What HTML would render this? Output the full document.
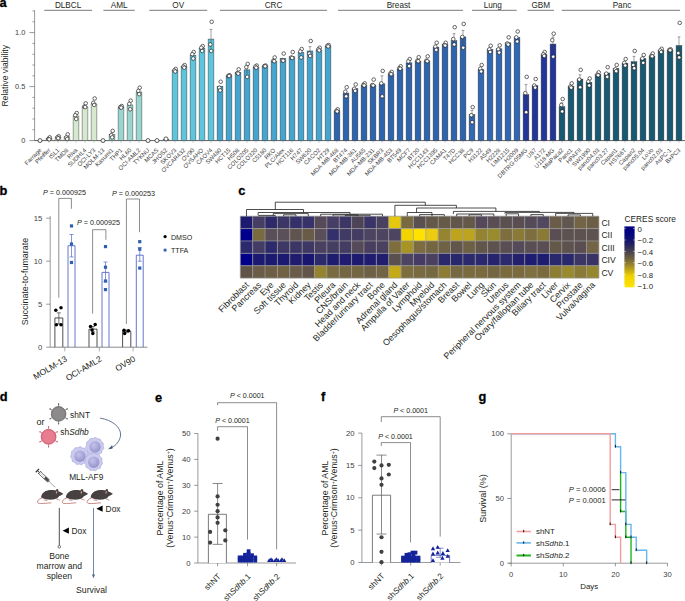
<!DOCTYPE html>
<html><head><meta charset="utf-8"><title>Figure</title>
<style>
html,body{margin:0;padding:0;background:#fff;}
body{width:685px;height:601px;overflow:hidden;}
svg{display:block;}
text{font-family:"Liberation Sans", sans-serif;}
</style></head>
<body>
<svg width="685" height="601" viewBox="0 0 685 601" font-family='"Liberation Sans", sans-serif'>
<rect x="0" y="0" width="685" height="601" fill="#fff"/>
<text x="-0.40" y="7.00" font-size="12.8" text-anchor="start" font-weight="bold" fill="#000" stroke="#000" stroke-width="0.3">a</text>
<line x1="34.60" y1="10.30" x2="34.60" y2="140.90" stroke="#6d6e71" stroke-width="0.7"/>
<line x1="29.40" y1="140.60" x2="34.60" y2="140.60" stroke="#6d6e71" stroke-width="0.7"/>
<line x1="32.40" y1="129.80" x2="34.60" y2="129.80" stroke="#6d6e71" stroke-width="0.7"/>
<line x1="32.40" y1="119.00" x2="34.60" y2="119.00" stroke="#6d6e71" stroke-width="0.7"/>
<line x1="32.40" y1="108.20" x2="34.60" y2="108.20" stroke="#6d6e71" stroke-width="0.7"/>
<line x1="32.40" y1="97.40" x2="34.60" y2="97.40" stroke="#6d6e71" stroke-width="0.7"/>
<line x1="29.40" y1="86.60" x2="34.60" y2="86.60" stroke="#6d6e71" stroke-width="0.7"/>
<line x1="32.40" y1="75.80" x2="34.60" y2="75.80" stroke="#6d6e71" stroke-width="0.7"/>
<line x1="32.40" y1="65.00" x2="34.60" y2="65.00" stroke="#6d6e71" stroke-width="0.7"/>
<line x1="32.40" y1="54.20" x2="34.60" y2="54.20" stroke="#6d6e71" stroke-width="0.7"/>
<line x1="32.40" y1="43.40" x2="34.60" y2="43.40" stroke="#6d6e71" stroke-width="0.7"/>
<line x1="29.40" y1="32.60" x2="34.60" y2="32.60" stroke="#6d6e71" stroke-width="0.7"/>
<line x1="32.40" y1="21.80" x2="34.60" y2="21.80" stroke="#6d6e71" stroke-width="0.7"/>
<line x1="32.40" y1="11.00" x2="34.60" y2="11.00" stroke="#6d6e71" stroke-width="0.7"/>
<text x="25.40" y="143.10" font-size="7.4" text-anchor="end" font-weight="normal" fill="#414042">0</text>
<text x="25.40" y="89.10" font-size="7.4" text-anchor="end" font-weight="normal" fill="#414042">0.5</text>
<text x="25.40" y="35.10" font-size="7.4" text-anchor="end" font-weight="normal" fill="#414042">1.0</text>
<text x="7.60" y="75.80" font-size="8.6" text-anchor="middle" font-weight="normal" fill="#231f20" transform="rotate(-90 7.60 75.80)">Relative viability</text>
<line x1="34.60" y1="140.60" x2="685.00" y2="140.60" stroke="#3a3a3a" stroke-width="0.8"/>
<line x1="44.20" y1="10.30" x2="92.00" y2="10.30" stroke="#58595b" stroke-width="0.8"/>
<text x="68.10" y="7.60" font-size="8.2" text-anchor="middle" font-weight="normal" fill="#231f20">DLBCL</text>
<circle cx="40.00" cy="140.60" r="2.00" fill="#fff" stroke="#1a1a1a" stroke-width="0.7"/>
<line x1="40.00" y1="141.00" x2="40.00" y2="142.80" stroke="#9a9a9a" stroke-width="0.5"/>
<text x="41.90" y="150.60" font-size="6.0" text-anchor="end" font-weight="normal" fill="#414042" transform="rotate(-45 41.90 150.60)">Farrage</text>
<rect x="46.10" y="138.44" width="5.80" height="2.16" fill="#d5e9cf" stroke="#3a3a3a" stroke-width="0.45"/>
<circle cx="49.70" cy="137.36" r="1.80" fill="#fff" stroke="#1a1a1a" stroke-width="0.65"/>
<circle cx="48.30" cy="138.98" r="1.80" fill="#fff" stroke="#1a1a1a" stroke-width="0.65"/>
<circle cx="49.20" cy="139.30" r="1.80" fill="#fff" stroke="#1a1a1a" stroke-width="0.65"/>
<line x1="49.00" y1="141.00" x2="49.00" y2="142.80" stroke="#9a9a9a" stroke-width="0.5"/>
<text x="50.90" y="150.60" font-size="6.0" text-anchor="end" font-weight="normal" fill="#414042" transform="rotate(-45 50.90 150.60)">Pfeiffer</text>
<rect x="55.10" y="137.36" width="5.80" height="3.24" fill="#d5e9cf" stroke="#3a3a3a" stroke-width="0.45"/>
<circle cx="58.70" cy="136.28" r="1.80" fill="#fff" stroke="#1a1a1a" stroke-width="0.65"/>
<circle cx="57.30" cy="137.36" r="1.80" fill="#fff" stroke="#1a1a1a" stroke-width="0.65"/>
<circle cx="58.20" cy="138.22" r="1.80" fill="#fff" stroke="#1a1a1a" stroke-width="0.65"/>
<line x1="58.00" y1="141.00" x2="58.00" y2="142.80" stroke="#9a9a9a" stroke-width="0.5"/>
<text x="59.90" y="150.60" font-size="6.0" text-anchor="end" font-weight="normal" fill="#414042" transform="rotate(-45 59.90 150.60)">ISL1</text>
<rect x="64.10" y="136.82" width="5.80" height="3.78" fill="#d5e9cf" stroke="#3a3a3a" stroke-width="0.45"/>
<circle cx="67.70" cy="134.34" r="1.80" fill="#fff" stroke="#1a1a1a" stroke-width="0.65"/>
<circle cx="66.30" cy="137.36" r="1.80" fill="#fff" stroke="#1a1a1a" stroke-width="0.65"/>
<circle cx="67.20" cy="138.98" r="1.80" fill="#fff" stroke="#1a1a1a" stroke-width="0.65"/>
<line x1="67.00" y1="141.00" x2="67.00" y2="142.80" stroke="#9a9a9a" stroke-width="0.5"/>
<text x="68.90" y="150.60" font-size="6.0" text-anchor="end" font-weight="normal" fill="#414042" transform="rotate(-45 68.90 150.60)">TMD8</text>
<rect x="73.10" y="116.08" width="5.80" height="24.52" fill="#d5e9cf" stroke="#3a3a3a" stroke-width="0.45"/>
<circle cx="76.70" cy="113.06" r="1.80" fill="#fff" stroke="#1a1a1a" stroke-width="0.65"/>
<circle cx="75.30" cy="115.22" r="1.80" fill="#fff" stroke="#1a1a1a" stroke-width="0.65"/>
<circle cx="76.20" cy="119.00" r="1.80" fill="#fff" stroke="#1a1a1a" stroke-width="0.65"/>
<line x1="76.00" y1="141.00" x2="76.00" y2="142.80" stroke="#9a9a9a" stroke-width="0.5"/>
<text x="77.90" y="150.60" font-size="6.0" text-anchor="end" font-weight="normal" fill="#414042" transform="rotate(-45 77.90 150.60)">Riva</text>
<rect x="82.10" y="106.90" width="5.80" height="33.70" fill="#d5e9cf" stroke="#3a3a3a" stroke-width="0.45"/>
<circle cx="85.70" cy="103.34" r="1.80" fill="#fff" stroke="#1a1a1a" stroke-width="0.65"/>
<circle cx="84.30" cy="106.58" r="1.80" fill="#fff" stroke="#1a1a1a" stroke-width="0.65"/>
<circle cx="85.20" cy="107.12" r="1.80" fill="#fff" stroke="#1a1a1a" stroke-width="0.65"/>
<line x1="85.00" y1="141.00" x2="85.00" y2="142.80" stroke="#9a9a9a" stroke-width="0.5"/>
<text x="86.90" y="150.60" font-size="6.0" text-anchor="end" font-weight="normal" fill="#414042" transform="rotate(-45 86.90 150.60)">SUDHL4</text>
<rect x="91.10" y="103.88" width="5.80" height="36.72" fill="#d5e9cf" stroke="#3a3a3a" stroke-width="0.45"/>
<circle cx="94.70" cy="98.48" r="1.80" fill="#fff" stroke="#1a1a1a" stroke-width="0.65"/>
<circle cx="93.30" cy="102.80" r="1.80" fill="#fff" stroke="#1a1a1a" stroke-width="0.65"/>
<circle cx="94.20" cy="104.96" r="1.80" fill="#fff" stroke="#1a1a1a" stroke-width="0.65"/>
<line x1="94.00" y1="141.00" x2="94.00" y2="142.80" stroke="#9a9a9a" stroke-width="0.5"/>
<text x="95.90" y="150.60" font-size="6.0" text-anchor="end" font-weight="normal" fill="#414042" transform="rotate(-45 95.90 150.60)">OCI-LY3</text>
<line x1="103.40" y1="10.30" x2="134.80" y2="10.30" stroke="#58595b" stroke-width="0.8"/>
<text x="119.10" y="7.60" font-size="8.2" text-anchor="middle" font-weight="normal" fill="#231f20">AML</text>
<circle cx="103.00" cy="140.60" r="2.00" fill="#fff" stroke="#1a1a1a" stroke-width="0.7"/>
<line x1="103.00" y1="141.00" x2="103.00" y2="142.80" stroke="#9a9a9a" stroke-width="0.5"/>
<text x="104.90" y="150.60" font-size="6.0" text-anchor="end" font-weight="normal" fill="#414042" transform="rotate(-45 104.90 150.60)">MOLM-13</text>
<rect x="109.10" y="134.66" width="5.80" height="5.94" fill="#9ad5cf" stroke="#3a3a3a" stroke-width="0.45"/>
<line x1="112.00" y1="131.96" x2="112.00" y2="137.36" stroke="#444" stroke-width="0.5"/>
<line x1="110.60" y1="131.96" x2="113.40" y2="131.96" stroke="#444" stroke-width="0.5"/>
<circle cx="112.70" cy="130.88" r="1.80" fill="#fff" stroke="#1a1a1a" stroke-width="0.65"/>
<circle cx="111.30" cy="135.20" r="1.80" fill="#fff" stroke="#1a1a1a" stroke-width="0.65"/>
<circle cx="112.20" cy="137.36" r="1.80" fill="#fff" stroke="#1a1a1a" stroke-width="0.65"/>
<line x1="112.00" y1="141.00" x2="112.00" y2="142.80" stroke="#9a9a9a" stroke-width="0.5"/>
<text x="113.90" y="150.60" font-size="6.0" text-anchor="end" font-weight="normal" fill="#414042" transform="rotate(-45 113.90 150.60)">Kasumi1</text>
<rect x="118.10" y="107.12" width="5.80" height="33.48" fill="#9ad5cf" stroke="#3a3a3a" stroke-width="0.45"/>
<circle cx="121.70" cy="106.04" r="1.80" fill="#fff" stroke="#1a1a1a" stroke-width="0.65"/>
<circle cx="120.30" cy="107.12" r="1.80" fill="#fff" stroke="#1a1a1a" stroke-width="0.65"/>
<circle cx="121.20" cy="107.66" r="1.80" fill="#fff" stroke="#1a1a1a" stroke-width="0.65"/>
<line x1="121.00" y1="141.00" x2="121.00" y2="142.80" stroke="#9a9a9a" stroke-width="0.5"/>
<text x="122.90" y="150.60" font-size="6.0" text-anchor="end" font-weight="normal" fill="#414042" transform="rotate(-45 122.90 150.60)">THP1</text>
<rect x="127.10" y="104.96" width="5.80" height="35.64" fill="#9ad5cf" stroke="#3a3a3a" stroke-width="0.45"/>
<circle cx="130.70" cy="100.64" r="1.80" fill="#fff" stroke="#1a1a1a" stroke-width="0.65"/>
<circle cx="129.30" cy="103.88" r="1.80" fill="#fff" stroke="#1a1a1a" stroke-width="0.65"/>
<circle cx="130.20" cy="109.28" r="1.80" fill="#fff" stroke="#1a1a1a" stroke-width="0.65"/>
<line x1="130.00" y1="141.00" x2="130.00" y2="142.80" stroke="#9a9a9a" stroke-width="0.5"/>
<text x="131.90" y="150.60" font-size="6.0" text-anchor="end" font-weight="normal" fill="#414042" transform="rotate(-45 131.90 150.60)">HL60</text>
<rect x="136.10" y="92.00" width="5.80" height="48.60" fill="#9ad5cf" stroke="#3a3a3a" stroke-width="0.45"/>
<circle cx="139.70" cy="87.68" r="1.80" fill="#fff" stroke="#1a1a1a" stroke-width="0.65"/>
<circle cx="138.30" cy="90.92" r="1.80" fill="#fff" stroke="#1a1a1a" stroke-width="0.65"/>
<circle cx="139.20" cy="94.16" r="1.80" fill="#fff" stroke="#1a1a1a" stroke-width="0.65"/>
<line x1="139.00" y1="141.00" x2="139.00" y2="142.80" stroke="#9a9a9a" stroke-width="0.5"/>
<text x="140.90" y="150.60" font-size="6.0" text-anchor="end" font-weight="normal" fill="#414042" transform="rotate(-45 140.90 150.60)">OCI-AML2</text>
<line x1="149.30" y1="10.30" x2="207.20" y2="10.30" stroke="#58595b" stroke-width="0.8"/>
<text x="178.25" y="7.60" font-size="8.2" text-anchor="middle" font-weight="normal" fill="#231f20">OV</text>
<circle cx="148.00" cy="140.60" r="2.00" fill="#fff" stroke="#1a1a1a" stroke-width="0.7"/>
<line x1="148.00" y1="141.00" x2="148.00" y2="142.80" stroke="#9a9a9a" stroke-width="0.5"/>
<text x="149.90" y="150.60" font-size="6.0" text-anchor="end" font-weight="normal" fill="#414042" transform="rotate(-45 149.90 150.60)">TYKNU</text>
<circle cx="157.00" cy="140.60" r="2.00" fill="#fff" stroke="#1a1a1a" stroke-width="0.7"/>
<line x1="157.00" y1="141.00" x2="157.00" y2="142.80" stroke="#9a9a9a" stroke-width="0.5"/>
<text x="158.90" y="150.60" font-size="6.0" text-anchor="end" font-weight="normal" fill="#414042" transform="rotate(-45 158.90 150.60)">MCAS</text>
<rect x="163.10" y="139.52" width="5.80" height="1.08" fill="#5ec5dd" stroke="#3a3a3a" stroke-width="0.45"/>
<circle cx="166.00" cy="138.92" r="2.00" fill="#fff" stroke="#1a1a1a" stroke-width="0.7"/>
<line x1="166.00" y1="141.00" x2="166.00" y2="142.80" stroke="#9a9a9a" stroke-width="0.5"/>
<text x="167.90" y="150.60" font-size="6.0" text-anchor="end" font-weight="normal" fill="#414042" transform="rotate(-45 167.90 150.60)">JHOS2</text>
<rect x="172.10" y="70.40" width="5.80" height="70.20" fill="#5ec5dd" stroke="#3a3a3a" stroke-width="0.45"/>
<circle cx="175.70" cy="68.89" r="1.80" fill="#fff" stroke="#1a1a1a" stroke-width="0.65"/>
<circle cx="174.30" cy="70.40" r="1.80" fill="#fff" stroke="#1a1a1a" stroke-width="0.65"/>
<circle cx="175.20" cy="71.48" r="1.80" fill="#fff" stroke="#1a1a1a" stroke-width="0.65"/>
<line x1="175.00" y1="141.00" x2="175.00" y2="142.80" stroke="#9a9a9a" stroke-width="0.5"/>
<text x="176.90" y="150.60" font-size="6.0" text-anchor="end" font-weight="normal" fill="#414042" transform="rotate(-45 176.90 150.60)">SKOV3</text>
<rect x="181.10" y="66.62" width="5.80" height="73.98" fill="#5ec5dd" stroke="#3a3a3a" stroke-width="0.45"/>
<circle cx="184.70" cy="65.11" r="1.80" fill="#fff" stroke="#1a1a1a" stroke-width="0.65"/>
<circle cx="183.30" cy="66.62" r="1.80" fill="#fff" stroke="#1a1a1a" stroke-width="0.65"/>
<circle cx="184.20" cy="67.70" r="1.80" fill="#fff" stroke="#1a1a1a" stroke-width="0.65"/>
<line x1="184.00" y1="141.00" x2="184.00" y2="142.80" stroke="#9a9a9a" stroke-width="0.5"/>
<text x="185.90" y="150.60" font-size="6.0" text-anchor="end" font-weight="normal" fill="#414042" transform="rotate(-45 185.90 150.60)">OVCAR432</text>
<rect x="190.10" y="55.28" width="5.80" height="85.32" fill="#5ec5dd" stroke="#3a3a3a" stroke-width="0.45"/>
<circle cx="193.70" cy="52.04" r="1.80" fill="#fff" stroke="#1a1a1a" stroke-width="0.65"/>
<circle cx="192.30" cy="54.20" r="1.80" fill="#fff" stroke="#1a1a1a" stroke-width="0.65"/>
<circle cx="193.20" cy="58.52" r="1.80" fill="#fff" stroke="#1a1a1a" stroke-width="0.65"/>
<line x1="193.00" y1="141.00" x2="193.00" y2="142.80" stroke="#9a9a9a" stroke-width="0.5"/>
<text x="194.90" y="150.60" font-size="6.0" text-anchor="end" font-weight="normal" fill="#414042" transform="rotate(-45 194.90 150.60)">OV90</text>
<rect x="199.10" y="48.15" width="5.80" height="92.45" fill="#5ec5dd" stroke="#3a3a3a" stroke-width="0.45"/>
<circle cx="202.70" cy="46.10" r="1.80" fill="#fff" stroke="#1a1a1a" stroke-width="0.65"/>
<circle cx="201.30" cy="47.72" r="1.80" fill="#fff" stroke="#1a1a1a" stroke-width="0.65"/>
<circle cx="202.20" cy="50.96" r="1.80" fill="#fff" stroke="#1a1a1a" stroke-width="0.65"/>
<line x1="202.00" y1="141.00" x2="202.00" y2="142.80" stroke="#9a9a9a" stroke-width="0.5"/>
<text x="203.90" y="150.60" font-size="6.0" text-anchor="end" font-weight="normal" fill="#414042" transform="rotate(-45 203.90 150.60)">OVSAHO</text>
<rect x="208.10" y="39.08" width="5.80" height="101.52" fill="#5ec5dd" stroke="#3a3a3a" stroke-width="0.45"/>
<line x1="211.00" y1="29.36" x2="211.00" y2="48.80" stroke="#444" stroke-width="0.5"/>
<line x1="209.60" y1="29.36" x2="212.40" y2="29.36" stroke="#444" stroke-width="0.5"/>
<circle cx="211.70" cy="21.80" r="1.80" fill="#fff" stroke="#1a1a1a" stroke-width="0.65"/>
<circle cx="210.30" cy="44.48" r="1.80" fill="#fff" stroke="#1a1a1a" stroke-width="0.65"/>
<circle cx="211.20" cy="50.96" r="1.80" fill="#fff" stroke="#1a1a1a" stroke-width="0.65"/>
<line x1="211.00" y1="141.00" x2="211.00" y2="142.80" stroke="#9a9a9a" stroke-width="0.5"/>
<text x="212.90" y="150.60" font-size="6.0" text-anchor="end" font-weight="normal" fill="#414042" transform="rotate(-45 212.90 150.60)">CAOV4</text>
<line x1="220.00" y1="10.30" x2="327.00" y2="10.30" stroke="#58595b" stroke-width="0.8"/>
<text x="273.50" y="7.60" font-size="8.2" text-anchor="middle" font-weight="normal" fill="#231f20">CRC</text>
<rect x="217.10" y="86.17" width="5.80" height="54.43" fill="#46a5cf" stroke="#3a3a3a" stroke-width="0.45"/>
<circle cx="220.70" cy="81.74" r="1.80" fill="#fff" stroke="#1a1a1a" stroke-width="0.65"/>
<circle cx="219.30" cy="87.68" r="1.80" fill="#fff" stroke="#1a1a1a" stroke-width="0.65"/>
<circle cx="220.20" cy="90.38" r="1.80" fill="#fff" stroke="#1a1a1a" stroke-width="0.65"/>
<line x1="220.00" y1="141.00" x2="220.00" y2="142.80" stroke="#9a9a9a" stroke-width="0.5"/>
<text x="221.90" y="150.60" font-size="6.0" text-anchor="end" font-weight="normal" fill="#414042" transform="rotate(-45 221.90 150.60)">SW480</text>
<rect x="226.10" y="75.80" width="5.80" height="64.80" fill="#46a5cf" stroke="#3a3a3a" stroke-width="0.45"/>
<circle cx="229.70" cy="75.26" r="1.80" fill="#fff" stroke="#1a1a1a" stroke-width="0.65"/>
<circle cx="228.30" cy="75.80" r="1.80" fill="#fff" stroke="#1a1a1a" stroke-width="0.65"/>
<circle cx="229.20" cy="76.02" r="1.80" fill="#fff" stroke="#1a1a1a" stroke-width="0.65"/>
<line x1="229.00" y1="141.00" x2="229.00" y2="142.80" stroke="#9a9a9a" stroke-width="0.5"/>
<text x="230.90" y="150.60" font-size="6.0" text-anchor="end" font-weight="normal" fill="#414042" transform="rotate(-45 230.90 150.60)">HCT15</text>
<rect x="235.10" y="72.56" width="5.80" height="68.04" fill="#46a5cf" stroke="#3a3a3a" stroke-width="0.45"/>
<circle cx="238.70" cy="69.32" r="1.80" fill="#fff" stroke="#1a1a1a" stroke-width="0.65"/>
<circle cx="237.30" cy="73.10" r="1.80" fill="#fff" stroke="#1a1a1a" stroke-width="0.65"/>
<circle cx="238.20" cy="73.64" r="1.80" fill="#fff" stroke="#1a1a1a" stroke-width="0.65"/>
<line x1="238.00" y1="141.00" x2="238.00" y2="142.80" stroke="#9a9a9a" stroke-width="0.5"/>
<text x="239.90" y="150.60" font-size="6.0" text-anchor="end" font-weight="normal" fill="#414042" transform="rotate(-45 239.90 150.60)">H508</text>
<rect x="244.10" y="69.86" width="5.80" height="70.74" fill="#46a5cf" stroke="#3a3a3a" stroke-width="0.45"/>
<line x1="247.00" y1="66.08" x2="247.00" y2="73.64" stroke="#444" stroke-width="0.5"/>
<line x1="245.60" y1="66.08" x2="248.40" y2="66.08" stroke="#444" stroke-width="0.5"/>
<circle cx="247.70" cy="63.92" r="1.80" fill="#fff" stroke="#1a1a1a" stroke-width="0.65"/>
<circle cx="246.30" cy="67.16" r="1.80" fill="#fff" stroke="#1a1a1a" stroke-width="0.65"/>
<circle cx="247.20" cy="76.88" r="1.80" fill="#fff" stroke="#1a1a1a" stroke-width="0.65"/>
<line x1="247.00" y1="141.00" x2="247.00" y2="142.80" stroke="#9a9a9a" stroke-width="0.5"/>
<text x="248.90" y="150.60" font-size="6.0" text-anchor="end" font-weight="normal" fill="#414042" transform="rotate(-45 248.90 150.60)">COLO205</text>
<rect x="253.10" y="67.70" width="5.80" height="72.90" fill="#46a5cf" stroke="#3a3a3a" stroke-width="0.45"/>
<circle cx="256.70" cy="65.54" r="1.80" fill="#fff" stroke="#1a1a1a" stroke-width="0.65"/>
<circle cx="255.30" cy="66.62" r="1.80" fill="#fff" stroke="#1a1a1a" stroke-width="0.65"/>
<circle cx="256.20" cy="67.70" r="1.80" fill="#fff" stroke="#1a1a1a" stroke-width="0.65"/>
<line x1="256.00" y1="141.00" x2="256.00" y2="142.80" stroke="#9a9a9a" stroke-width="0.5"/>
<text x="257.90" y="150.60" font-size="6.0" text-anchor="end" font-weight="normal" fill="#414042" transform="rotate(-45 257.90 150.60)">COLO320</text>
<rect x="262.10" y="66.08" width="5.80" height="74.52" fill="#46a5cf" stroke="#3a3a3a" stroke-width="0.45"/>
<circle cx="265.70" cy="65.54" r="1.80" fill="#fff" stroke="#1a1a1a" stroke-width="0.65"/>
<circle cx="264.30" cy="66.08" r="1.80" fill="#fff" stroke="#1a1a1a" stroke-width="0.65"/>
<circle cx="265.20" cy="66.30" r="1.80" fill="#fff" stroke="#1a1a1a" stroke-width="0.65"/>
<line x1="265.00" y1="141.00" x2="265.00" y2="142.80" stroke="#9a9a9a" stroke-width="0.5"/>
<text x="266.90" y="150.60" font-size="6.0" text-anchor="end" font-weight="normal" fill="#414042" transform="rotate(-45 266.90 150.60)">C5180</text>
<rect x="271.10" y="61.44" width="5.80" height="79.16" fill="#46a5cf" stroke="#3a3a3a" stroke-width="0.45"/>
<circle cx="274.70" cy="57.44" r="1.80" fill="#fff" stroke="#1a1a1a" stroke-width="0.65"/>
<circle cx="273.30" cy="60.68" r="1.80" fill="#fff" stroke="#1a1a1a" stroke-width="0.65"/>
<circle cx="274.20" cy="61.22" r="1.80" fill="#fff" stroke="#1a1a1a" stroke-width="0.65"/>
<line x1="274.00" y1="141.00" x2="274.00" y2="142.80" stroke="#9a9a9a" stroke-width="0.5"/>
<text x="275.90" y="150.60" font-size="6.0" text-anchor="end" font-weight="normal" fill="#414042" transform="rotate(-45 275.90 150.60)">RKO</text>
<rect x="280.10" y="58.52" width="5.80" height="82.08" fill="#46a5cf" stroke="#3a3a3a" stroke-width="0.45"/>
<circle cx="283.70" cy="53.55" r="1.80" fill="#fff" stroke="#1a1a1a" stroke-width="0.65"/>
<circle cx="282.30" cy="60.14" r="1.80" fill="#fff" stroke="#1a1a1a" stroke-width="0.65"/>
<circle cx="283.20" cy="60.68" r="1.80" fill="#fff" stroke="#1a1a1a" stroke-width="0.65"/>
<line x1="283.00" y1="141.00" x2="283.00" y2="142.80" stroke="#9a9a9a" stroke-width="0.5"/>
<text x="284.90" y="150.60" font-size="6.0" text-anchor="end" font-weight="normal" fill="#414042" transform="rotate(-45 284.90 150.60)">PLC/Alex</text>
<rect x="289.10" y="56.79" width="5.80" height="83.81" fill="#46a5cf" stroke="#3a3a3a" stroke-width="0.45"/>
<circle cx="292.70" cy="52.04" r="1.80" fill="#fff" stroke="#1a1a1a" stroke-width="0.65"/>
<circle cx="291.30" cy="57.44" r="1.80" fill="#fff" stroke="#1a1a1a" stroke-width="0.65"/>
<circle cx="292.20" cy="57.98" r="1.80" fill="#fff" stroke="#1a1a1a" stroke-width="0.65"/>
<line x1="292.00" y1="141.00" x2="292.00" y2="142.80" stroke="#9a9a9a" stroke-width="0.5"/>
<text x="293.90" y="150.60" font-size="6.0" text-anchor="end" font-weight="normal" fill="#414042" transform="rotate(-45 293.90 150.60)">HCT116</text>
<rect x="298.10" y="52.47" width="5.80" height="88.13" fill="#46a5cf" stroke="#3a3a3a" stroke-width="0.45"/>
<circle cx="301.70" cy="49.02" r="1.80" fill="#fff" stroke="#1a1a1a" stroke-width="0.65"/>
<circle cx="300.30" cy="51.50" r="1.80" fill="#fff" stroke="#1a1a1a" stroke-width="0.65"/>
<circle cx="301.20" cy="57.44" r="1.80" fill="#fff" stroke="#1a1a1a" stroke-width="0.65"/>
<line x1="301.00" y1="141.00" x2="301.00" y2="142.80" stroke="#9a9a9a" stroke-width="0.5"/>
<text x="302.90" y="150.60" font-size="6.0" text-anchor="end" font-weight="normal" fill="#414042" transform="rotate(-45 302.90 150.60)">H747</text>
<rect x="307.10" y="50.96" width="5.80" height="89.64" fill="#46a5cf" stroke="#3a3a3a" stroke-width="0.45"/>
<line x1="310.00" y1="46.64" x2="310.00" y2="55.28" stroke="#444" stroke-width="0.5"/>
<line x1="308.60" y1="46.64" x2="311.40" y2="46.64" stroke="#444" stroke-width="0.5"/>
<circle cx="310.70" cy="41.02" r="1.80" fill="#fff" stroke="#1a1a1a" stroke-width="0.65"/>
<circle cx="309.30" cy="53.55" r="1.80" fill="#fff" stroke="#1a1a1a" stroke-width="0.65"/>
<circle cx="310.20" cy="55.93" r="1.80" fill="#fff" stroke="#1a1a1a" stroke-width="0.65"/>
<line x1="310.00" y1="141.00" x2="310.00" y2="142.80" stroke="#9a9a9a" stroke-width="0.5"/>
<text x="311.90" y="150.60" font-size="6.0" text-anchor="end" font-weight="normal" fill="#414042" transform="rotate(-45 311.90 150.60)">SW620</text>
<rect x="316.10" y="49.88" width="5.80" height="90.72" fill="#46a5cf" stroke="#3a3a3a" stroke-width="0.45"/>
<circle cx="319.70" cy="47.72" r="1.80" fill="#fff" stroke="#1a1a1a" stroke-width="0.65"/>
<circle cx="318.30" cy="49.34" r="1.80" fill="#fff" stroke="#1a1a1a" stroke-width="0.65"/>
<circle cx="319.20" cy="50.42" r="1.80" fill="#fff" stroke="#1a1a1a" stroke-width="0.65"/>
<line x1="319.00" y1="141.00" x2="319.00" y2="142.80" stroke="#9a9a9a" stroke-width="0.5"/>
<text x="320.90" y="150.60" font-size="6.0" text-anchor="end" font-weight="normal" fill="#414042" transform="rotate(-45 320.90 150.60)">CACO2</text>
<rect x="325.10" y="46.42" width="5.80" height="94.18" fill="#46a5cf" stroke="#3a3a3a" stroke-width="0.45"/>
<circle cx="328.70" cy="45.02" r="1.80" fill="#fff" stroke="#1a1a1a" stroke-width="0.65"/>
<circle cx="327.30" cy="45.78" r="1.80" fill="#fff" stroke="#1a1a1a" stroke-width="0.65"/>
<circle cx="328.20" cy="46.42" r="1.80" fill="#fff" stroke="#1a1a1a" stroke-width="0.65"/>
<line x1="328.00" y1="141.00" x2="328.00" y2="142.80" stroke="#9a9a9a" stroke-width="0.5"/>
<text x="329.90" y="150.60" font-size="6.0" text-anchor="end" font-weight="normal" fill="#414042" transform="rotate(-45 329.90 150.60)">HT29</text>
<line x1="338.00" y1="10.30" x2="463.00" y2="10.30" stroke="#58595b" stroke-width="0.8"/>
<text x="398.50" y="7.60" font-size="8.2" text-anchor="middle" font-weight="normal" fill="#231f20">Breast</text>
<rect x="334.10" y="110.79" width="5.80" height="29.81" fill="#2e63ae" stroke="#3a3a3a" stroke-width="0.45"/>
<circle cx="337.70" cy="109.28" r="1.80" fill="#fff" stroke="#1a1a1a" stroke-width="0.65"/>
<circle cx="336.30" cy="110.90" r="1.80" fill="#fff" stroke="#1a1a1a" stroke-width="0.65"/>
<circle cx="337.20" cy="111.44" r="1.80" fill="#fff" stroke="#1a1a1a" stroke-width="0.65"/>
<line x1="337.00" y1="141.00" x2="337.00" y2="142.80" stroke="#9a9a9a" stroke-width="0.5"/>
<text x="338.90" y="150.60" font-size="6.0" text-anchor="end" font-weight="normal" fill="#414042" transform="rotate(-45 338.90 150.60)">MDA-MB-468</text>
<rect x="343.10" y="93.08" width="5.80" height="47.52" fill="#2e63ae" stroke="#3a3a3a" stroke-width="0.45"/>
<circle cx="346.70" cy="87.25" r="1.80" fill="#fff" stroke="#1a1a1a" stroke-width="0.65"/>
<circle cx="345.30" cy="91.68" r="1.80" fill="#fff" stroke="#1a1a1a" stroke-width="0.65"/>
<circle cx="346.20" cy="96.32" r="1.80" fill="#fff" stroke="#1a1a1a" stroke-width="0.65"/>
<line x1="346.00" y1="141.00" x2="346.00" y2="142.80" stroke="#9a9a9a" stroke-width="0.5"/>
<text x="347.90" y="150.60" font-size="6.0" text-anchor="end" font-weight="normal" fill="#414042" transform="rotate(-45 347.90 150.60)">BT474</text>
<rect x="352.10" y="88.76" width="5.80" height="51.84" fill="#2e63ae" stroke="#3a3a3a" stroke-width="0.45"/>
<circle cx="355.70" cy="84.44" r="1.80" fill="#fff" stroke="#1a1a1a" stroke-width="0.65"/>
<circle cx="354.30" cy="88.76" r="1.80" fill="#fff" stroke="#1a1a1a" stroke-width="0.65"/>
<circle cx="355.20" cy="90.92" r="1.80" fill="#fff" stroke="#1a1a1a" stroke-width="0.65"/>
<line x1="355.00" y1="141.00" x2="355.00" y2="142.80" stroke="#9a9a9a" stroke-width="0.5"/>
<text x="356.90" y="150.60" font-size="6.0" text-anchor="end" font-weight="normal" fill="#414042" transform="rotate(-45 356.90 150.60)">MDA-MB-361</text>
<rect x="361.10" y="85.52" width="5.80" height="55.08" fill="#2e63ae" stroke="#3a3a3a" stroke-width="0.45"/>
<circle cx="364.70" cy="83.36" r="1.80" fill="#fff" stroke="#1a1a1a" stroke-width="0.65"/>
<circle cx="363.30" cy="84.98" r="1.80" fill="#fff" stroke="#1a1a1a" stroke-width="0.65"/>
<circle cx="364.20" cy="85.52" r="1.80" fill="#fff" stroke="#1a1a1a" stroke-width="0.65"/>
<line x1="364.00" y1="141.00" x2="364.00" y2="142.80" stroke="#9a9a9a" stroke-width="0.5"/>
<text x="365.90" y="150.60" font-size="6.0" text-anchor="end" font-weight="normal" fill="#414042" transform="rotate(-45 365.90 150.60)">AU565</text>
<rect x="370.10" y="84.98" width="5.80" height="55.62" fill="#2e63ae" stroke="#3a3a3a" stroke-width="0.45"/>
<circle cx="373.70" cy="79.58" r="1.80" fill="#fff" stroke="#1a1a1a" stroke-width="0.65"/>
<circle cx="372.30" cy="84.98" r="1.80" fill="#fff" stroke="#1a1a1a" stroke-width="0.65"/>
<circle cx="373.20" cy="85.52" r="1.80" fill="#fff" stroke="#1a1a1a" stroke-width="0.65"/>
<line x1="373.00" y1="141.00" x2="373.00" y2="142.80" stroke="#9a9a9a" stroke-width="0.5"/>
<text x="374.90" y="150.60" font-size="6.0" text-anchor="end" font-weight="normal" fill="#414042" transform="rotate(-45 374.90 150.60)">MDA-MB-231</text>
<rect x="379.10" y="83.79" width="5.80" height="56.81" fill="#2e63ae" stroke="#3a3a3a" stroke-width="0.45"/>
<line x1="382.00" y1="75.80" x2="382.00" y2="92.00" stroke="#444" stroke-width="0.5"/>
<line x1="380.60" y1="75.80" x2="383.40" y2="75.80" stroke="#444" stroke-width="0.5"/>
<circle cx="382.70" cy="70.94" r="1.80" fill="#fff" stroke="#1a1a1a" stroke-width="0.65"/>
<circle cx="381.30" cy="83.36" r="1.80" fill="#fff" stroke="#1a1a1a" stroke-width="0.65"/>
<circle cx="382.20" cy="96.32" r="1.80" fill="#fff" stroke="#1a1a1a" stroke-width="0.65"/>
<line x1="382.00" y1="141.00" x2="382.00" y2="142.80" stroke="#9a9a9a" stroke-width="0.5"/>
<text x="383.90" y="150.60" font-size="6.0" text-anchor="end" font-weight="normal" fill="#414042" transform="rotate(-45 383.90 150.60)">SKBR3</text>
<rect x="388.10" y="73.86" width="5.80" height="66.74" fill="#2e63ae" stroke="#3a3a3a" stroke-width="0.45"/>
<circle cx="391.70" cy="71.91" r="1.80" fill="#fff" stroke="#1a1a1a" stroke-width="0.65"/>
<circle cx="390.30" cy="73.64" r="1.80" fill="#fff" stroke="#1a1a1a" stroke-width="0.65"/>
<circle cx="391.20" cy="74.18" r="1.80" fill="#fff" stroke="#1a1a1a" stroke-width="0.65"/>
<line x1="391.00" y1="141.00" x2="391.00" y2="142.80" stroke="#9a9a9a" stroke-width="0.5"/>
<text x="392.90" y="150.60" font-size="6.0" text-anchor="end" font-weight="normal" fill="#414042" transform="rotate(-45 392.90 150.60)">MDA-MB-453</text>
<rect x="397.10" y="68.89" width="5.80" height="71.71" fill="#2e63ae" stroke="#3a3a3a" stroke-width="0.45"/>
<circle cx="400.70" cy="66.30" r="1.80" fill="#fff" stroke="#1a1a1a" stroke-width="0.65"/>
<circle cx="399.30" cy="68.24" r="1.80" fill="#fff" stroke="#1a1a1a" stroke-width="0.65"/>
<circle cx="400.20" cy="68.78" r="1.80" fill="#fff" stroke="#1a1a1a" stroke-width="0.65"/>
<line x1="400.00" y1="141.00" x2="400.00" y2="142.80" stroke="#9a9a9a" stroke-width="0.5"/>
<text x="401.90" y="150.60" font-size="6.0" text-anchor="end" font-weight="normal" fill="#414042" transform="rotate(-45 401.90 150.60)">BT549</text>
<rect x="406.10" y="62.84" width="5.80" height="77.76" fill="#2e63ae" stroke="#3a3a3a" stroke-width="0.45"/>
<circle cx="409.70" cy="59.06" r="1.80" fill="#fff" stroke="#1a1a1a" stroke-width="0.65"/>
<circle cx="408.30" cy="61.44" r="1.80" fill="#fff" stroke="#1a1a1a" stroke-width="0.65"/>
<circle cx="409.20" cy="66.08" r="1.80" fill="#fff" stroke="#1a1a1a" stroke-width="0.65"/>
<line x1="409.00" y1="141.00" x2="409.00" y2="142.80" stroke="#9a9a9a" stroke-width="0.5"/>
<text x="410.90" y="150.60" font-size="6.0" text-anchor="end" font-weight="normal" fill="#414042" transform="rotate(-45 410.90 150.60)">MCF7</text>
<rect x="415.10" y="61.11" width="5.80" height="79.49" fill="#2e63ae" stroke="#3a3a3a" stroke-width="0.45"/>
<circle cx="418.70" cy="57.22" r="1.80" fill="#fff" stroke="#1a1a1a" stroke-width="0.65"/>
<circle cx="417.30" cy="60.68" r="1.80" fill="#fff" stroke="#1a1a1a" stroke-width="0.65"/>
<circle cx="418.20" cy="61.22" r="1.80" fill="#fff" stroke="#1a1a1a" stroke-width="0.65"/>
<line x1="418.00" y1="141.00" x2="418.00" y2="142.80" stroke="#9a9a9a" stroke-width="0.5"/>
<text x="419.90" y="150.60" font-size="6.0" text-anchor="end" font-weight="normal" fill="#414042" transform="rotate(-45 419.90 150.60)">BT20</text>
<rect x="424.10" y="60.90" width="5.80" height="79.70" fill="#2e63ae" stroke="#3a3a3a" stroke-width="0.45"/>
<circle cx="427.70" cy="56.36" r="1.80" fill="#fff" stroke="#1a1a1a" stroke-width="0.65"/>
<circle cx="426.30" cy="60.68" r="1.80" fill="#fff" stroke="#1a1a1a" stroke-width="0.65"/>
<circle cx="427.20" cy="61.22" r="1.80" fill="#fff" stroke="#1a1a1a" stroke-width="0.65"/>
<line x1="427.00" y1="141.00" x2="427.00" y2="142.80" stroke="#9a9a9a" stroke-width="0.5"/>
<text x="428.90" y="150.60" font-size="6.0" text-anchor="end" font-weight="normal" fill="#414042" transform="rotate(-45 428.90 150.60)">HCC1143</text>
<rect x="433.10" y="47.18" width="5.80" height="93.42" fill="#2e63ae" stroke="#3a3a3a" stroke-width="0.45"/>
<circle cx="436.70" cy="42.75" r="1.80" fill="#fff" stroke="#1a1a1a" stroke-width="0.65"/>
<circle cx="435.30" cy="46.64" r="1.80" fill="#fff" stroke="#1a1a1a" stroke-width="0.65"/>
<circle cx="436.20" cy="49.88" r="1.80" fill="#fff" stroke="#1a1a1a" stroke-width="0.65"/>
<line x1="436.00" y1="141.00" x2="436.00" y2="142.80" stroke="#9a9a9a" stroke-width="0.5"/>
<text x="437.90" y="150.60" font-size="6.0" text-anchor="end" font-weight="normal" fill="#414042" transform="rotate(-45 437.90 150.60)">HCC1395</text>
<rect x="442.10" y="44.48" width="5.80" height="96.12" fill="#2e63ae" stroke="#3a3a3a" stroke-width="0.45"/>
<circle cx="445.70" cy="42.75" r="1.80" fill="#fff" stroke="#1a1a1a" stroke-width="0.65"/>
<circle cx="444.30" cy="45.02" r="1.80" fill="#fff" stroke="#1a1a1a" stroke-width="0.65"/>
<circle cx="445.20" cy="45.56" r="1.80" fill="#fff" stroke="#1a1a1a" stroke-width="0.65"/>
<line x1="445.00" y1="141.00" x2="445.00" y2="142.80" stroke="#9a9a9a" stroke-width="0.5"/>
<text x="446.90" y="150.60" font-size="6.0" text-anchor="end" font-weight="normal" fill="#414042" transform="rotate(-45 446.90 150.60)">CAMA1</text>
<rect x="451.10" y="40.70" width="5.80" height="99.90" fill="#2e63ae" stroke="#3a3a3a" stroke-width="0.45"/>
<line x1="454.00" y1="33.68" x2="454.00" y2="46.64" stroke="#444" stroke-width="0.5"/>
<line x1="452.60" y1="33.68" x2="455.40" y2="33.68" stroke="#444" stroke-width="0.5"/>
<circle cx="454.70" cy="27.20" r="1.80" fill="#fff" stroke="#1a1a1a" stroke-width="0.65"/>
<circle cx="453.30" cy="39.08" r="1.80" fill="#fff" stroke="#1a1a1a" stroke-width="0.65"/>
<circle cx="454.20" cy="44.48" r="1.80" fill="#fff" stroke="#1a1a1a" stroke-width="0.65"/>
<line x1="454.00" y1="141.00" x2="454.00" y2="142.80" stroke="#9a9a9a" stroke-width="0.5"/>
<text x="455.90" y="150.60" font-size="6.0" text-anchor="end" font-weight="normal" fill="#414042" transform="rotate(-45 455.90 150.60)">T47D</text>
<rect x="460.10" y="36.92" width="5.80" height="103.68" fill="#2e63ae" stroke="#3a3a3a" stroke-width="0.45"/>
<line x1="463.00" y1="30.44" x2="463.00" y2="44.48" stroke="#444" stroke-width="0.5"/>
<line x1="461.60" y1="30.44" x2="464.40" y2="30.44" stroke="#444" stroke-width="0.5"/>
<circle cx="463.70" cy="23.96" r="1.80" fill="#fff" stroke="#1a1a1a" stroke-width="0.65"/>
<circle cx="462.30" cy="36.92" r="1.80" fill="#fff" stroke="#1a1a1a" stroke-width="0.65"/>
<circle cx="463.20" cy="47.72" r="1.80" fill="#fff" stroke="#1a1a1a" stroke-width="0.65"/>
<line x1="463.00" y1="141.00" x2="463.00" y2="142.80" stroke="#9a9a9a" stroke-width="0.5"/>
<text x="464.90" y="150.60" font-size="6.0" text-anchor="end" font-weight="normal" fill="#414042" transform="rotate(-45 464.90 150.60)">HCC38</text>
<line x1="472.00" y1="10.30" x2="516.70" y2="10.30" stroke="#58595b" stroke-width="0.8"/>
<text x="492.80" y="7.60" font-size="8.2" text-anchor="middle" font-weight="normal" fill="#231f20">Lung</text>
<rect x="469.10" y="114.68" width="5.80" height="25.92" fill="#3168b4" stroke="#3a3a3a" stroke-width="0.45"/>
<line x1="472.00" y1="110.36" x2="472.00" y2="119.00" stroke="#444" stroke-width="0.5"/>
<line x1="470.60" y1="110.36" x2="473.40" y2="110.36" stroke="#444" stroke-width="0.5"/>
<circle cx="472.70" cy="107.12" r="1.80" fill="#fff" stroke="#1a1a1a" stroke-width="0.65"/>
<circle cx="471.30" cy="115.22" r="1.80" fill="#fff" stroke="#1a1a1a" stroke-width="0.65"/>
<circle cx="472.20" cy="122.24" r="1.80" fill="#fff" stroke="#1a1a1a" stroke-width="0.65"/>
<line x1="472.00" y1="141.00" x2="472.00" y2="142.80" stroke="#9a9a9a" stroke-width="0.5"/>
<text x="473.90" y="150.60" font-size="6.0" text-anchor="end" font-weight="normal" fill="#414042" transform="rotate(-45 473.90 150.60)">PC9</text>
<rect x="478.10" y="69.64" width="5.80" height="70.96" fill="#3168b4" stroke="#3a3a3a" stroke-width="0.45"/>
<circle cx="481.70" cy="65.00" r="1.80" fill="#fff" stroke="#1a1a1a" stroke-width="0.65"/>
<circle cx="480.30" cy="68.67" r="1.80" fill="#fff" stroke="#1a1a1a" stroke-width="0.65"/>
<circle cx="481.20" cy="71.48" r="1.80" fill="#fff" stroke="#1a1a1a" stroke-width="0.65"/>
<line x1="481.00" y1="141.00" x2="481.00" y2="142.80" stroke="#9a9a9a" stroke-width="0.5"/>
<text x="482.90" y="150.60" font-size="6.0" text-anchor="end" font-weight="normal" fill="#414042" transform="rotate(-45 482.90 150.60)">H3122</text>
<rect x="487.10" y="49.34" width="5.80" height="91.26" fill="#3168b4" stroke="#3a3a3a" stroke-width="0.45"/>
<circle cx="490.70" cy="45.78" r="1.80" fill="#fff" stroke="#1a1a1a" stroke-width="0.65"/>
<circle cx="489.30" cy="49.34" r="1.80" fill="#fff" stroke="#1a1a1a" stroke-width="0.65"/>
<circle cx="490.20" cy="52.04" r="1.80" fill="#fff" stroke="#1a1a1a" stroke-width="0.65"/>
<line x1="490.00" y1="141.00" x2="490.00" y2="142.80" stroke="#9a9a9a" stroke-width="0.5"/>
<text x="491.90" y="150.60" font-size="6.0" text-anchor="end" font-weight="normal" fill="#414042" transform="rotate(-45 491.90 150.60)">A549</text>
<rect x="496.10" y="48.80" width="5.80" height="91.80" fill="#3168b4" stroke="#3a3a3a" stroke-width="0.45"/>
<circle cx="499.70" cy="45.34" r="1.80" fill="#fff" stroke="#1a1a1a" stroke-width="0.65"/>
<circle cx="498.30" cy="49.34" r="1.80" fill="#fff" stroke="#1a1a1a" stroke-width="0.65"/>
<circle cx="499.20" cy="52.58" r="1.80" fill="#fff" stroke="#1a1a1a" stroke-width="0.65"/>
<line x1="499.00" y1="141.00" x2="499.00" y2="142.80" stroke="#9a9a9a" stroke-width="0.5"/>
<text x="500.90" y="150.60" font-size="6.0" text-anchor="end" font-weight="normal" fill="#414042" transform="rotate(-45 500.90 150.60)">H2228</text>
<rect x="505.10" y="42.86" width="5.80" height="97.74" fill="#3168b4" stroke="#3a3a3a" stroke-width="0.45"/>
<circle cx="508.70" cy="37.35" r="1.80" fill="#fff" stroke="#1a1a1a" stroke-width="0.65"/>
<circle cx="507.30" cy="43.40" r="1.80" fill="#fff" stroke="#1a1a1a" stroke-width="0.65"/>
<circle cx="508.20" cy="44.59" r="1.80" fill="#fff" stroke="#1a1a1a" stroke-width="0.65"/>
<line x1="508.00" y1="141.00" x2="508.00" y2="142.80" stroke="#9a9a9a" stroke-width="0.5"/>
<text x="509.90" y="150.60" font-size="6.0" text-anchor="end" font-weight="normal" fill="#414042" transform="rotate(-45 509.90 150.60)">LIM1215</text>
<rect x="514.10" y="37.46" width="5.80" height="103.14" fill="#3168b4" stroke="#3a3a3a" stroke-width="0.45"/>
<circle cx="517.70" cy="31.52" r="1.80" fill="#fff" stroke="#1a1a1a" stroke-width="0.65"/>
<circle cx="516.30" cy="37.35" r="1.80" fill="#fff" stroke="#1a1a1a" stroke-width="0.65"/>
<circle cx="517.20" cy="41.46" r="1.80" fill="#fff" stroke="#1a1a1a" stroke-width="0.65"/>
<line x1="517.00" y1="141.00" x2="517.00" y2="142.80" stroke="#9a9a9a" stroke-width="0.5"/>
<text x="518.90" y="150.60" font-size="6.0" text-anchor="end" font-weight="normal" fill="#414042" transform="rotate(-45 518.90 150.60)">H2009</text>
<line x1="527.60" y1="10.30" x2="554.00" y2="10.30" stroke="#58595b" stroke-width="0.8"/>
<text x="540.80" y="7.60" font-size="8.2" text-anchor="middle" font-weight="normal" fill="#231f20">GBM</text>
<rect x="523.10" y="94.70" width="5.80" height="45.90" fill="#223599" stroke="#3a3a3a" stroke-width="0.45"/>
<line x1="526.00" y1="84.44" x2="526.00" y2="104.96" stroke="#444" stroke-width="0.5"/>
<line x1="524.60" y1="84.44" x2="527.40" y2="84.44" stroke="#444" stroke-width="0.5"/>
<circle cx="526.70" cy="76.88" r="1.80" fill="#fff" stroke="#1a1a1a" stroke-width="0.65"/>
<circle cx="525.30" cy="93.08" r="1.80" fill="#fff" stroke="#1a1a1a" stroke-width="0.65"/>
<circle cx="526.20" cy="112.20" r="1.80" fill="#fff" stroke="#1a1a1a" stroke-width="0.65"/>
<line x1="526.00" y1="141.00" x2="526.00" y2="142.80" stroke="#9a9a9a" stroke-width="0.5"/>
<text x="527.90" y="150.60" font-size="6.0" text-anchor="end" font-weight="normal" fill="#414042" transform="rotate(-45 527.90 150.60)">DBTRG-05MG</text>
<rect x="532.10" y="85.74" width="5.80" height="54.86" fill="#223599" stroke="#3a3a3a" stroke-width="0.45"/>
<circle cx="535.70" cy="79.04" r="1.80" fill="#fff" stroke="#1a1a1a" stroke-width="0.65"/>
<circle cx="534.30" cy="85.52" r="1.80" fill="#fff" stroke="#1a1a1a" stroke-width="0.65"/>
<circle cx="535.20" cy="87.68" r="1.80" fill="#fff" stroke="#1a1a1a" stroke-width="0.65"/>
<line x1="535.00" y1="141.00" x2="535.00" y2="142.80" stroke="#9a9a9a" stroke-width="0.5"/>
<text x="536.90" y="150.60" font-size="6.0" text-anchor="end" font-weight="normal" fill="#414042" transform="rotate(-45 536.90 150.60)">U87</text>
<rect x="541.10" y="54.63" width="5.80" height="85.97" fill="#223599" stroke="#3a3a3a" stroke-width="0.45"/>
<circle cx="544.70" cy="52.04" r="1.80" fill="#fff" stroke="#1a1a1a" stroke-width="0.65"/>
<circle cx="543.30" cy="54.20" r="1.80" fill="#fff" stroke="#1a1a1a" stroke-width="0.65"/>
<circle cx="544.20" cy="55.93" r="1.80" fill="#fff" stroke="#1a1a1a" stroke-width="0.65"/>
<line x1="544.00" y1="141.00" x2="544.00" y2="142.80" stroke="#9a9a9a" stroke-width="0.5"/>
<text x="545.90" y="150.60" font-size="6.0" text-anchor="end" font-weight="normal" fill="#414042" transform="rotate(-45 545.90 150.60)">A172</text>
<rect x="550.10" y="44.05" width="5.80" height="96.55" fill="#223599" stroke="#3a3a3a" stroke-width="0.45"/>
<line x1="553.00" y1="36.92" x2="553.00" y2="50.96" stroke="#444" stroke-width="0.5"/>
<line x1="551.60" y1="36.92" x2="554.40" y2="36.92" stroke="#444" stroke-width="0.5"/>
<circle cx="553.70" cy="33.68" r="1.80" fill="#fff" stroke="#1a1a1a" stroke-width="0.65"/>
<circle cx="552.30" cy="40.16" r="1.80" fill="#fff" stroke="#1a1a1a" stroke-width="0.65"/>
<circle cx="553.20" cy="56.68" r="1.80" fill="#fff" stroke="#1a1a1a" stroke-width="0.65"/>
<line x1="553.00" y1="141.00" x2="553.00" y2="142.80" stroke="#9a9a9a" stroke-width="0.5"/>
<text x="554.90" y="150.60" font-size="6.0" text-anchor="end" font-weight="normal" fill="#414042" transform="rotate(-45 554.90 150.60)">U118-MG</text>
<line x1="561.80" y1="10.30" x2="680.00" y2="10.30" stroke="#58595b" stroke-width="0.8"/>
<text x="622.00" y="7.60" font-size="8.2" text-anchor="middle" font-weight="normal" fill="#231f20">Panc</text>
<rect x="559.10" y="106.69" width="5.80" height="33.91" fill="#175872" stroke="#3a3a3a" stroke-width="0.45"/>
<line x1="562.00" y1="102.80" x2="562.00" y2="110.36" stroke="#444" stroke-width="0.5"/>
<line x1="560.60" y1="102.80" x2="563.40" y2="102.80" stroke="#444" stroke-width="0.5"/>
<circle cx="562.70" cy="99.02" r="1.80" fill="#fff" stroke="#1a1a1a" stroke-width="0.65"/>
<circle cx="561.30" cy="104.96" r="1.80" fill="#fff" stroke="#1a1a1a" stroke-width="0.65"/>
<circle cx="562.20" cy="111.44" r="1.80" fill="#fff" stroke="#1a1a1a" stroke-width="0.65"/>
<line x1="562.00" y1="141.00" x2="562.00" y2="142.80" stroke="#9a9a9a" stroke-width="0.5"/>
<text x="563.90" y="150.60" font-size="6.0" text-anchor="end" font-weight="normal" fill="#414042" transform="rotate(-45 563.90 150.60)">MiaPaca2</text>
<rect x="568.10" y="86.17" width="5.80" height="54.43" fill="#175872" stroke="#3a3a3a" stroke-width="0.45"/>
<circle cx="571.70" cy="83.36" r="1.80" fill="#fff" stroke="#1a1a1a" stroke-width="0.65"/>
<circle cx="570.30" cy="86.60" r="1.80" fill="#fff" stroke="#1a1a1a" stroke-width="0.65"/>
<circle cx="571.20" cy="87.68" r="1.80" fill="#fff" stroke="#1a1a1a" stroke-width="0.65"/>
<line x1="571.00" y1="141.00" x2="571.00" y2="142.80" stroke="#9a9a9a" stroke-width="0.5"/>
<text x="572.90" y="150.60" font-size="6.0" text-anchor="end" font-weight="normal" fill="#414042" transform="rotate(-45 572.90 150.60)">Panc1</text>
<rect x="577.10" y="79.04" width="5.80" height="61.56" fill="#175872" stroke="#3a3a3a" stroke-width="0.45"/>
<line x1="580.00" y1="74.72" x2="580.00" y2="83.36" stroke="#444" stroke-width="0.5"/>
<line x1="578.60" y1="74.72" x2="581.40" y2="74.72" stroke="#444" stroke-width="0.5"/>
<circle cx="580.70" cy="69.86" r="1.80" fill="#fff" stroke="#1a1a1a" stroke-width="0.65"/>
<circle cx="579.30" cy="79.58" r="1.80" fill="#fff" stroke="#1a1a1a" stroke-width="0.65"/>
<circle cx="580.20" cy="87.25" r="1.80" fill="#fff" stroke="#1a1a1a" stroke-width="0.65"/>
<line x1="580.00" y1="141.00" x2="580.00" y2="142.80" stroke="#9a9a9a" stroke-width="0.5"/>
<text x="581.90" y="150.60" font-size="6.0" text-anchor="end" font-weight="normal" fill="#414042" transform="rotate(-45 581.90 150.60)">HPAFII</text>
<rect x="586.10" y="82.28" width="5.80" height="58.32" fill="#175872" stroke="#3a3a3a" stroke-width="0.45"/>
<circle cx="589.70" cy="78.50" r="1.80" fill="#fff" stroke="#1a1a1a" stroke-width="0.65"/>
<circle cx="588.30" cy="81.52" r="1.80" fill="#fff" stroke="#1a1a1a" stroke-width="0.65"/>
<circle cx="589.20" cy="85.52" r="1.80" fill="#fff" stroke="#1a1a1a" stroke-width="0.65"/>
<line x1="589.00" y1="141.00" x2="589.00" y2="142.80" stroke="#9a9a9a" stroke-width="0.5"/>
<text x="590.90" y="150.60" font-size="6.0" text-anchor="end" font-weight="normal" fill="#414042" transform="rotate(-45 590.90 150.60)">SW1990</text>
<rect x="595.10" y="74.72" width="5.80" height="65.88" fill="#175872" stroke="#3a3a3a" stroke-width="0.45"/>
<circle cx="598.70" cy="72.34" r="1.80" fill="#fff" stroke="#1a1a1a" stroke-width="0.65"/>
<circle cx="597.30" cy="74.72" r="1.80" fill="#fff" stroke="#1a1a1a" stroke-width="0.65"/>
<circle cx="598.20" cy="75.26" r="1.80" fill="#fff" stroke="#1a1a1a" stroke-width="0.65"/>
<line x1="598.00" y1="141.00" x2="598.00" y2="142.80" stroke="#9a9a9a" stroke-width="0.5"/>
<text x="599.90" y="150.60" font-size="6.0" text-anchor="end" font-weight="normal" fill="#414042" transform="rotate(-45 599.90 150.60)">panc04.03</text>
<rect x="604.10" y="72.99" width="5.80" height="67.61" fill="#175872" stroke="#3a3a3a" stroke-width="0.45"/>
<circle cx="607.70" cy="67.16" r="1.80" fill="#fff" stroke="#1a1a1a" stroke-width="0.65"/>
<circle cx="606.30" cy="73.64" r="1.80" fill="#fff" stroke="#1a1a1a" stroke-width="0.65"/>
<circle cx="607.20" cy="76.88" r="1.80" fill="#fff" stroke="#1a1a1a" stroke-width="0.65"/>
<line x1="607.00" y1="141.00" x2="607.00" y2="142.80" stroke="#9a9a9a" stroke-width="0.5"/>
<text x="608.90" y="150.60" font-size="6.0" text-anchor="end" font-weight="normal" fill="#414042" transform="rotate(-45 608.90 150.60)">panc03.27</text>
<rect x="613.10" y="68.56" width="5.80" height="72.04" fill="#175872" stroke="#3a3a3a" stroke-width="0.45"/>
<circle cx="616.70" cy="65.00" r="1.80" fill="#fff" stroke="#1a1a1a" stroke-width="0.65"/>
<circle cx="615.30" cy="69.32" r="1.80" fill="#fff" stroke="#1a1a1a" stroke-width="0.65"/>
<circle cx="616.20" cy="71.16" r="1.80" fill="#fff" stroke="#1a1a1a" stroke-width="0.65"/>
<line x1="616.00" y1="141.00" x2="616.00" y2="142.80" stroke="#9a9a9a" stroke-width="0.5"/>
<text x="617.90" y="150.60" font-size="6.0" text-anchor="end" font-weight="normal" fill="#414042" transform="rotate(-45 617.90 150.60)">Capan1</text>
<rect x="622.10" y="63.27" width="5.80" height="77.33" fill="#175872" stroke="#3a3a3a" stroke-width="0.45"/>
<circle cx="625.70" cy="59.06" r="1.80" fill="#fff" stroke="#1a1a1a" stroke-width="0.65"/>
<circle cx="624.30" cy="62.84" r="1.80" fill="#fff" stroke="#1a1a1a" stroke-width="0.65"/>
<circle cx="625.20" cy="65.54" r="1.80" fill="#fff" stroke="#1a1a1a" stroke-width="0.65"/>
<line x1="625.00" y1="141.00" x2="625.00" y2="142.80" stroke="#9a9a9a" stroke-width="0.5"/>
<text x="626.90" y="150.60" font-size="6.0" text-anchor="end" font-weight="normal" fill="#414042" transform="rotate(-45 626.90 150.60)">HS766T</text>
<rect x="631.10" y="61.76" width="5.80" height="78.84" fill="#175872" stroke="#3a3a3a" stroke-width="0.45"/>
<line x1="634.00" y1="56.36" x2="634.00" y2="66.08" stroke="#444" stroke-width="0.5"/>
<line x1="632.60" y1="56.36" x2="635.40" y2="56.36" stroke="#444" stroke-width="0.5"/>
<circle cx="634.70" cy="50.96" r="1.80" fill="#fff" stroke="#1a1a1a" stroke-width="0.65"/>
<circle cx="633.30" cy="65.00" r="1.80" fill="#fff" stroke="#1a1a1a" stroke-width="0.65"/>
<circle cx="634.20" cy="68.24" r="1.80" fill="#fff" stroke="#1a1a1a" stroke-width="0.65"/>
<line x1="634.00" y1="141.00" x2="634.00" y2="142.80" stroke="#9a9a9a" stroke-width="0.5"/>
<text x="635.90" y="150.60" font-size="6.0" text-anchor="end" font-weight="normal" fill="#414042" transform="rotate(-45 635.90 150.60)">Capan2</text>
<rect x="640.10" y="58.52" width="5.80" height="82.08" fill="#175872" stroke="#3a3a3a" stroke-width="0.45"/>
<circle cx="643.70" cy="54.96" r="1.80" fill="#fff" stroke="#1a1a1a" stroke-width="0.65"/>
<circle cx="642.30" cy="58.52" r="1.80" fill="#fff" stroke="#1a1a1a" stroke-width="0.65"/>
<circle cx="643.20" cy="62.84" r="1.80" fill="#fff" stroke="#1a1a1a" stroke-width="0.65"/>
<line x1="643.00" y1="141.00" x2="643.00" y2="142.80" stroke="#9a9a9a" stroke-width="0.5"/>
<text x="644.90" y="150.60" font-size="6.0" text-anchor="end" font-weight="normal" fill="#414042" transform="rotate(-45 644.90 150.60)">panc05.04</text>
<rect x="649.10" y="56.04" width="5.80" height="84.56" fill="#175872" stroke="#3a3a3a" stroke-width="0.45"/>
<circle cx="652.70" cy="53.55" r="1.80" fill="#fff" stroke="#1a1a1a" stroke-width="0.65"/>
<circle cx="651.30" cy="55.93" r="1.80" fill="#fff" stroke="#1a1a1a" stroke-width="0.65"/>
<circle cx="652.20" cy="56.36" r="1.80" fill="#fff" stroke="#1a1a1a" stroke-width="0.65"/>
<line x1="652.00" y1="141.00" x2="652.00" y2="142.80" stroke="#9a9a9a" stroke-width="0.5"/>
<text x="653.90" y="150.60" font-size="6.0" text-anchor="end" font-weight="normal" fill="#414042" transform="rotate(-45 653.90 150.60)">LoVo</text>
<rect x="658.10" y="50.53" width="5.80" height="90.07" fill="#175872" stroke="#3a3a3a" stroke-width="0.45"/>
<circle cx="661.70" cy="48.80" r="1.80" fill="#fff" stroke="#1a1a1a" stroke-width="0.65"/>
<circle cx="660.30" cy="50.42" r="1.80" fill="#fff" stroke="#1a1a1a" stroke-width="0.65"/>
<circle cx="661.20" cy="52.04" r="1.80" fill="#fff" stroke="#1a1a1a" stroke-width="0.65"/>
<line x1="661.00" y1="141.00" x2="661.00" y2="142.80" stroke="#9a9a9a" stroke-width="0.5"/>
<text x="662.90" y="150.60" font-size="6.0" text-anchor="end" font-weight="normal" fill="#414042" transform="rotate(-45 662.90 150.60)">panc02.03</text>
<rect x="667.10" y="50.31" width="5.80" height="90.29" fill="#175872" stroke="#3a3a3a" stroke-width="0.45"/>
<circle cx="670.70" cy="49.34" r="1.80" fill="#fff" stroke="#1a1a1a" stroke-width="0.65"/>
<circle cx="669.30" cy="49.88" r="1.80" fill="#fff" stroke="#1a1a1a" stroke-width="0.65"/>
<circle cx="670.20" cy="50.31" r="1.80" fill="#fff" stroke="#1a1a1a" stroke-width="0.65"/>
<line x1="670.00" y1="141.00" x2="670.00" y2="142.80" stroke="#9a9a9a" stroke-width="0.5"/>
<text x="671.90" y="150.60" font-size="6.0" text-anchor="end" font-weight="normal" fill="#414042" transform="rotate(-45 671.90 150.60)">AsPC-1</text>
<rect x="676.10" y="45.56" width="5.80" height="95.04" fill="#175872" stroke="#3a3a3a" stroke-width="0.45"/>
<line x1="679.00" y1="36.92" x2="679.00" y2="54.20" stroke="#444" stroke-width="0.5"/>
<line x1="677.60" y1="36.92" x2="680.40" y2="36.92" stroke="#444" stroke-width="0.5"/>
<circle cx="679.70" cy="22.88" r="1.80" fill="#fff" stroke="#1a1a1a" stroke-width="0.65"/>
<circle cx="678.30" cy="53.12" r="1.80" fill="#fff" stroke="#1a1a1a" stroke-width="0.65"/>
<circle cx="679.20" cy="57.44" r="1.80" fill="#fff" stroke="#1a1a1a" stroke-width="0.65"/>
<line x1="679.00" y1="141.00" x2="679.00" y2="142.80" stroke="#9a9a9a" stroke-width="0.5"/>
<text x="680.90" y="150.60" font-size="6.0" text-anchor="end" font-weight="normal" fill="#414042" transform="rotate(-45 680.90 150.60)">BxPC3</text>
<text x="-0.60" y="195.30" font-size="12.8" text-anchor="start" font-weight="bold" fill="#000" stroke="#000" stroke-width="0.3">b</text>
<line x1="50.20" y1="216.00" x2="50.20" y2="347.20" stroke="#6d6e71" stroke-width="0.7"/>
<line x1="46.20" y1="347.20" x2="50.20" y2="347.20" stroke="#6d6e71" stroke-width="0.7"/>
<text x="42.20" y="349.80" font-size="7.6" text-anchor="end" font-weight="normal" fill="#414042">0</text>
<line x1="46.20" y1="304.20" x2="50.20" y2="304.20" stroke="#6d6e71" stroke-width="0.7"/>
<text x="42.20" y="306.80" font-size="7.6" text-anchor="end" font-weight="normal" fill="#414042">5</text>
<line x1="46.20" y1="261.20" x2="50.20" y2="261.20" stroke="#6d6e71" stroke-width="0.7"/>
<text x="42.20" y="263.80" font-size="7.6" text-anchor="end" font-weight="normal" fill="#414042">10</text>
<line x1="46.20" y1="218.20" x2="50.20" y2="218.20" stroke="#6d6e71" stroke-width="0.7"/>
<text x="42.20" y="220.80" font-size="7.6" text-anchor="end" font-weight="normal" fill="#414042">15</text>
<text x="27.60" y="281.60" font-size="8.9" text-anchor="middle" font-weight="normal" fill="#231f20" transform="rotate(-90 27.60 281.60)">Succinate-to-fumarate</text>
<line x1="64.80" y1="347.20" x2="64.80" y2="351.40" stroke="#8a8a8a" stroke-width="0.7"/>
<path d="M54.90 347.20 V317.96 H62.80 V347.20" stroke="#231f20" fill="#fff" stroke-width="0.8"/>
<line x1="58.85" y1="312.80" x2="58.85" y2="323.98" stroke="#231f20" stroke-width="0.6"/>
<line x1="56.85" y1="312.80" x2="60.85" y2="312.80" stroke="#231f20" stroke-width="0.6"/>
<line x1="56.85" y1="323.98" x2="60.85" y2="323.98" stroke="#231f20" stroke-width="0.6"/>
<circle cx="55.80" cy="310.22" r="1.75" fill="#000" stroke="none" stroke-width="0.6"/>
<circle cx="61.00" cy="307.64" r="1.75" fill="#000" stroke="none" stroke-width="0.6"/>
<circle cx="56.40" cy="324.84" r="1.75" fill="#000" stroke="none" stroke-width="0.6"/>
<circle cx="61.00" cy="324.84" r="1.75" fill="#000" stroke="none" stroke-width="0.6"/>
<path d="M68.00 347.20 V245.72 H75.00 V347.20" stroke="#5568c8" fill="#fff" stroke-width="0.9"/>
<line x1="71.50" y1="234.54" x2="71.50" y2="256.90" stroke="#5568c8" stroke-width="0.7"/>
<line x1="69.50" y1="234.54" x2="73.50" y2="234.54" stroke="#5568c8" stroke-width="0.7"/>
<line x1="69.50" y1="256.90" x2="73.50" y2="256.90" stroke="#5568c8" stroke-width="0.7"/>
<rect x="69.90" y="224.34" width="3.20" height="3.20" fill="#2f5fae" stroke="none" stroke-width="0.6"/>
<rect x="69.90" y="242.40" width="3.20" height="3.20" fill="#2f5fae" stroke="none" stroke-width="0.6"/>
<rect x="69.90" y="260.89" width="3.20" height="3.20" fill="#2f5fae" stroke="none" stroke-width="0.6"/>
<line x1="99.30" y1="347.20" x2="99.30" y2="351.40" stroke="#8a8a8a" stroke-width="0.7"/>
<path d="M89.00 347.20 V329.14 H97.00 V347.20" stroke="#231f20" fill="#fff" stroke-width="0.8"/>
<line x1="93.00" y1="326.56" x2="93.00" y2="331.72" stroke="#231f20" stroke-width="0.6"/>
<line x1="91.00" y1="326.56" x2="95.00" y2="326.56" stroke="#231f20" stroke-width="0.6"/>
<line x1="91.00" y1="331.72" x2="95.00" y2="331.72" stroke="#231f20" stroke-width="0.6"/>
<circle cx="90.50" cy="326.56" r="1.75" fill="#000" stroke="none" stroke-width="0.6"/>
<circle cx="95.20" cy="324.41" r="1.75" fill="#000" stroke="none" stroke-width="0.6"/>
<circle cx="92.80" cy="333.44" r="1.75" fill="#000" stroke="none" stroke-width="0.6"/>
<circle cx="92.00" cy="330.00" r="1.75" fill="#000" stroke="none" stroke-width="0.6"/>
<path d="M102.00 347.20 V272.38 H109.00 V347.20" stroke="#5568c8" fill="#fff" stroke-width="0.9"/>
<line x1="105.50" y1="262.06" x2="105.50" y2="281.84" stroke="#5568c8" stroke-width="0.7"/>
<line x1="103.50" y1="262.06" x2="107.50" y2="262.06" stroke="#5568c8" stroke-width="0.7"/>
<line x1="103.50" y1="281.84" x2="107.50" y2="281.84" stroke="#5568c8" stroke-width="0.7"/>
<rect x="103.90" y="244.98" width="3.20" height="3.20" fill="#2f5fae" stroke="none" stroke-width="0.6"/>
<rect x="103.90" y="265.62" width="3.20" height="3.20" fill="#2f5fae" stroke="none" stroke-width="0.6"/>
<rect x="103.90" y="279.38" width="3.20" height="3.20" fill="#2f5fae" stroke="none" stroke-width="0.6"/>
<rect x="103.90" y="287.98" width="3.20" height="3.20" fill="#2f5fae" stroke="none" stroke-width="0.6"/>
<line x1="133.10" y1="347.20" x2="133.10" y2="351.40" stroke="#8a8a8a" stroke-width="0.7"/>
<path d="M122.60 347.20 V331.29 H130.80 V347.20" stroke="#231f20" fill="#fff" stroke-width="0.8"/>
<line x1="126.70" y1="330.00" x2="126.70" y2="332.58" stroke="#231f20" stroke-width="0.6"/>
<line x1="124.70" y1="330.00" x2="128.70" y2="330.00" stroke="#231f20" stroke-width="0.6"/>
<line x1="124.70" y1="332.58" x2="128.70" y2="332.58" stroke="#231f20" stroke-width="0.6"/>
<circle cx="124.00" cy="330.17" r="1.75" fill="#000" stroke="none" stroke-width="0.6"/>
<circle cx="128.50" cy="330.86" r="1.75" fill="#000" stroke="none" stroke-width="0.6"/>
<circle cx="124.60" cy="333.44" r="1.75" fill="#000" stroke="none" stroke-width="0.6"/>
<path d="M136.30 347.20 V255.18 H143.20 V347.20" stroke="#5568c8" fill="#fff" stroke-width="0.9"/>
<line x1="139.75" y1="247.44" x2="139.75" y2="261.20" stroke="#5568c8" stroke-width="0.7"/>
<line x1="137.75" y1="247.44" x2="141.75" y2="247.44" stroke="#5568c8" stroke-width="0.7"/>
<line x1="137.75" y1="261.20" x2="141.75" y2="261.20" stroke="#5568c8" stroke-width="0.7"/>
<rect x="138.15" y="240.08" width="3.20" height="3.20" fill="#2f5fae" stroke="none" stroke-width="0.6"/>
<rect x="138.15" y="247.56" width="3.20" height="3.20" fill="#2f5fae" stroke="none" stroke-width="0.6"/>
<rect x="138.15" y="266.48" width="3.20" height="3.20" fill="#2f5fae" stroke="none" stroke-width="0.6"/>
<text x="67.80" y="360.50" font-size="8.5" text-anchor="end" font-weight="normal" fill="#231f20" transform="rotate(-31 67.80 360.50)">MOLM-13</text>
<text x="102.30" y="360.50" font-size="8.5" text-anchor="end" font-weight="normal" fill="#231f20" transform="rotate(-31 102.30 360.50)">OCI-AML2</text>
<text x="136.10" y="360.50" font-size="8.5" text-anchor="end" font-weight="normal" fill="#231f20" transform="rotate(-31 136.10 360.50)">OV90</text>
<path d="M58.8 297.6 V198.4 H71.4 V208.8" stroke="#414042" fill="none" stroke-width="0.6"/>
<path d="M92.6 313.7 V229.7 H105.9 V239.8" stroke="#414042" fill="none" stroke-width="0.6"/>
<path d="M126.4 323.9 V199.0 H139.5 V232.2" stroke="#414042" fill="none" stroke-width="0.6"/>
<text x="43.00" y="194.60" font-size="7.2" text-anchor="start" fill="#231f20"><tspan font-style="italic">P</tspan> = 0.000925</text>
<text x="77.00" y="225.30" font-size="7.2" text-anchor="start" fill="#231f20"><tspan font-style="italic">P</tspan> = 0.000925</text>
<text x="112.00" y="195.50" font-size="7.2" text-anchor="start" fill="#231f20"><tspan font-style="italic">P</tspan> = 0.000253</text>
<circle cx="165.10" cy="236.60" r="1.60" fill="#000" stroke="none" stroke-width="0.6"/>
<text x="171.00" y="239.70" font-size="7.1" text-anchor="start" font-weight="normal" fill="#231f20">DMSO</text>
<rect x="163.70" y="248.70" width="2.80" height="2.80" fill="#2f5fae" stroke="none" stroke-width="0.6"/>
<text x="171.00" y="253.00" font-size="7.1" text-anchor="start" font-weight="normal" fill="#231f20">TTFA</text>
<line x1="50.20" y1="347.20" x2="147.40" y2="347.20" stroke="#6d6e71" stroke-width="0.8"/>
<text x="238.20" y="195.20" font-size="12.8" text-anchor="start" font-weight="bold" fill="#000" stroke="#000" stroke-width="0.3">c</text>
<rect x="240.30" y="216.20" width="12.37" height="12.38" fill="#1e1a70" stroke="none" stroke-width="0.6"/>
<rect x="252.67" y="216.20" width="12.37" height="12.38" fill="#463e64" stroke="none" stroke-width="0.6"/>
<rect x="265.03" y="216.20" width="12.37" height="12.38" fill="#2e2a6a" stroke="none" stroke-width="0.6"/>
<rect x="277.40" y="216.20" width="12.37" height="12.38" fill="#3c3666" stroke="none" stroke-width="0.6"/>
<rect x="289.76" y="216.20" width="12.37" height="12.38" fill="#35306a" stroke="none" stroke-width="0.6"/>
<rect x="302.13" y="216.20" width="12.37" height="12.38" fill="#37326a" stroke="none" stroke-width="0.6"/>
<rect x="314.50" y="216.20" width="12.37" height="12.38" fill="#564a5a" stroke="none" stroke-width="0.6"/>
<rect x="326.86" y="216.20" width="12.37" height="12.38" fill="#463e64" stroke="none" stroke-width="0.6"/>
<rect x="339.23" y="216.20" width="12.37" height="12.38" fill="#3c3666" stroke="none" stroke-width="0.6"/>
<rect x="351.59" y="216.20" width="12.37" height="12.38" fill="#4e4458" stroke="none" stroke-width="0.6"/>
<rect x="363.96" y="216.20" width="12.37" height="12.38" fill="#3a3468" stroke="none" stroke-width="0.6"/>
<rect x="376.33" y="216.20" width="12.37" height="12.38" fill="#4a4060" stroke="none" stroke-width="0.6"/>
<rect x="388.69" y="216.20" width="12.37" height="12.38" fill="#e4c810" stroke="none" stroke-width="0.6"/>
<rect x="401.06" y="216.20" width="12.37" height="12.38" fill="#7a6a40" stroke="none" stroke-width="0.6"/>
<rect x="413.42" y="216.20" width="12.37" height="12.38" fill="#5a5050" stroke="none" stroke-width="0.6"/>
<rect x="425.79" y="216.20" width="12.37" height="12.38" fill="#645848" stroke="none" stroke-width="0.6"/>
<rect x="438.16" y="216.20" width="12.37" height="12.38" fill="#665a48" stroke="none" stroke-width="0.6"/>
<rect x="450.52" y="216.20" width="12.37" height="12.38" fill="#62564a" stroke="none" stroke-width="0.6"/>
<rect x="462.89" y="216.20" width="12.37" height="12.38" fill="#645848" stroke="none" stroke-width="0.6"/>
<rect x="475.25" y="216.20" width="12.37" height="12.38" fill="#54485a" stroke="none" stroke-width="0.6"/>
<rect x="487.62" y="216.20" width="12.37" height="12.38" fill="#5a4e54" stroke="none" stroke-width="0.6"/>
<rect x="499.99" y="216.20" width="12.37" height="12.38" fill="#5a5050" stroke="none" stroke-width="0.6"/>
<rect x="512.35" y="216.20" width="12.37" height="12.38" fill="#5a4e52" stroke="none" stroke-width="0.6"/>
<rect x="524.72" y="216.20" width="12.37" height="12.38" fill="#544a58" stroke="none" stroke-width="0.6"/>
<rect x="537.08" y="216.20" width="12.37" height="12.38" fill="#524860" stroke="none" stroke-width="0.6"/>
<rect x="549.45" y="216.20" width="12.37" height="12.38" fill="#6a5c48" stroke="none" stroke-width="0.6"/>
<rect x="561.82" y="216.20" width="12.37" height="12.38" fill="#625650" stroke="none" stroke-width="0.6"/>
<rect x="574.18" y="216.20" width="12.37" height="12.38" fill="#726444" stroke="none" stroke-width="0.6"/>
<rect x="586.55" y="216.20" width="12.37" height="12.38" fill="#6c5e46" stroke="none" stroke-width="0.6"/>
<rect x="240.30" y="228.58" width="12.37" height="12.38" fill="#00008c" stroke="none" stroke-width="0.6"/>
<rect x="252.67" y="228.58" width="12.37" height="12.38" fill="#7a6a40" stroke="none" stroke-width="0.6"/>
<rect x="265.03" y="228.58" width="12.37" height="12.38" fill="#5a4e58" stroke="none" stroke-width="0.6"/>
<rect x="277.40" y="228.58" width="12.37" height="12.38" fill="#5c5058" stroke="none" stroke-width="0.6"/>
<rect x="289.76" y="228.58" width="12.37" height="12.38" fill="#605450" stroke="none" stroke-width="0.6"/>
<rect x="302.13" y="228.58" width="12.37" height="12.38" fill="#6a5a48" stroke="none" stroke-width="0.6"/>
<rect x="314.50" y="228.58" width="12.37" height="12.38" fill="#5a4e58" stroke="none" stroke-width="0.6"/>
<rect x="326.86" y="228.58" width="12.37" height="12.38" fill="#34306c" stroke="none" stroke-width="0.6"/>
<rect x="339.23" y="228.58" width="12.37" height="12.38" fill="#403a64" stroke="none" stroke-width="0.6"/>
<rect x="351.59" y="228.58" width="12.37" height="12.38" fill="#443c62" stroke="none" stroke-width="0.6"/>
<rect x="363.96" y="228.58" width="12.37" height="12.38" fill="#4c4460" stroke="none" stroke-width="0.6"/>
<rect x="376.33" y="228.58" width="12.37" height="12.38" fill="#4c4460" stroke="none" stroke-width="0.6"/>
<rect x="388.69" y="228.58" width="12.37" height="12.38" fill="#4c4460" stroke="none" stroke-width="0.6"/>
<rect x="401.06" y="228.58" width="12.37" height="12.38" fill="#f2d400" stroke="none" stroke-width="0.6"/>
<rect x="413.42" y="228.58" width="12.37" height="12.38" fill="#ffe200" stroke="none" stroke-width="0.6"/>
<rect x="425.79" y="228.58" width="12.37" height="12.38" fill="#eccc10" stroke="none" stroke-width="0.6"/>
<rect x="438.16" y="228.58" width="12.37" height="12.38" fill="#968430" stroke="none" stroke-width="0.6"/>
<rect x="450.52" y="228.58" width="12.37" height="12.38" fill="#bea41c" stroke="none" stroke-width="0.6"/>
<rect x="462.89" y="228.58" width="12.37" height="12.38" fill="#bca41e" stroke="none" stroke-width="0.6"/>
<rect x="475.25" y="228.58" width="12.37" height="12.38" fill="#948430" stroke="none" stroke-width="0.6"/>
<rect x="487.62" y="228.58" width="12.37" height="12.38" fill="#9a8a2e" stroke="none" stroke-width="0.6"/>
<rect x="499.99" y="228.58" width="12.37" height="12.38" fill="#7e6e3e" stroke="none" stroke-width="0.6"/>
<rect x="512.35" y="228.58" width="12.37" height="12.38" fill="#8a7a36" stroke="none" stroke-width="0.6"/>
<rect x="524.72" y="228.58" width="12.37" height="12.38" fill="#7e6e3e" stroke="none" stroke-width="0.6"/>
<rect x="537.08" y="228.58" width="12.37" height="12.38" fill="#8a7a36" stroke="none" stroke-width="0.6"/>
<rect x="549.45" y="228.58" width="12.37" height="12.38" fill="#5a4e52" stroke="none" stroke-width="0.6"/>
<rect x="561.82" y="228.58" width="12.37" height="12.38" fill="#5e5250" stroke="none" stroke-width="0.6"/>
<rect x="574.18" y="228.58" width="12.37" height="12.38" fill="#5e5250" stroke="none" stroke-width="0.6"/>
<rect x="586.55" y="228.58" width="12.37" height="12.38" fill="#5e5250" stroke="none" stroke-width="0.6"/>
<rect x="240.30" y="240.96" width="12.37" height="12.38" fill="#2c2a6c" stroke="none" stroke-width="0.6"/>
<rect x="252.67" y="240.96" width="12.37" height="12.38" fill="#443c64" stroke="none" stroke-width="0.6"/>
<rect x="265.03" y="240.96" width="12.37" height="12.38" fill="#2c2a6c" stroke="none" stroke-width="0.6"/>
<rect x="277.40" y="240.96" width="12.37" height="12.38" fill="#403864" stroke="none" stroke-width="0.6"/>
<rect x="289.76" y="240.96" width="12.37" height="12.38" fill="#3c3666" stroke="none" stroke-width="0.6"/>
<rect x="302.13" y="240.96" width="12.37" height="12.38" fill="#403864" stroke="none" stroke-width="0.6"/>
<rect x="314.50" y="240.96" width="12.37" height="12.38" fill="#4a4060" stroke="none" stroke-width="0.6"/>
<rect x="326.86" y="240.96" width="12.37" height="12.38" fill="#463e62" stroke="none" stroke-width="0.6"/>
<rect x="339.23" y="240.96" width="12.37" height="12.38" fill="#443c62" stroke="none" stroke-width="0.6"/>
<rect x="351.59" y="240.96" width="12.37" height="12.38" fill="#544a58" stroke="none" stroke-width="0.6"/>
<rect x="363.96" y="240.96" width="12.37" height="12.38" fill="#483e60" stroke="none" stroke-width="0.6"/>
<rect x="376.33" y="240.96" width="12.37" height="12.38" fill="#4a4060" stroke="none" stroke-width="0.6"/>
<rect x="388.69" y="240.96" width="12.37" height="12.38" fill="#7e6e3e" stroke="none" stroke-width="0.6"/>
<rect x="401.06" y="240.96" width="12.37" height="12.38" fill="#a89424" stroke="none" stroke-width="0.6"/>
<rect x="413.42" y="240.96" width="12.37" height="12.38" fill="#7c6c40" stroke="none" stroke-width="0.6"/>
<rect x="425.79" y="240.96" width="12.37" height="12.38" fill="#746640" stroke="none" stroke-width="0.6"/>
<rect x="438.16" y="240.96" width="12.37" height="12.38" fill="#706244" stroke="none" stroke-width="0.6"/>
<rect x="450.52" y="240.96" width="12.37" height="12.38" fill="#62564a" stroke="none" stroke-width="0.6"/>
<rect x="462.89" y="240.96" width="12.37" height="12.38" fill="#6e6044" stroke="none" stroke-width="0.6"/>
<rect x="475.25" y="240.96" width="12.37" height="12.38" fill="#62564a" stroke="none" stroke-width="0.6"/>
<rect x="487.62" y="240.96" width="12.37" height="12.38" fill="#5e524e" stroke="none" stroke-width="0.6"/>
<rect x="499.99" y="240.96" width="12.37" height="12.38" fill="#5a4e52" stroke="none" stroke-width="0.6"/>
<rect x="512.35" y="240.96" width="12.37" height="12.38" fill="#544a58" stroke="none" stroke-width="0.6"/>
<rect x="524.72" y="240.96" width="12.37" height="12.38" fill="#5a4e54" stroke="none" stroke-width="0.6"/>
<rect x="537.08" y="240.96" width="12.37" height="12.38" fill="#5a4e54" stroke="none" stroke-width="0.6"/>
<rect x="549.45" y="240.96" width="12.37" height="12.38" fill="#645848" stroke="none" stroke-width="0.6"/>
<rect x="561.82" y="240.96" width="12.37" height="12.38" fill="#5e524e" stroke="none" stroke-width="0.6"/>
<rect x="574.18" y="240.96" width="12.37" height="12.38" fill="#5a4e52" stroke="none" stroke-width="0.6"/>
<rect x="586.55" y="240.96" width="12.37" height="12.38" fill="#726444" stroke="none" stroke-width="0.6"/>
<rect x="240.30" y="253.34" width="12.37" height="12.38" fill="#000088" stroke="none" stroke-width="0.6"/>
<rect x="252.67" y="253.34" width="12.37" height="12.38" fill="#1c1a70" stroke="none" stroke-width="0.6"/>
<rect x="265.03" y="253.34" width="12.37" height="12.38" fill="#1c1a70" stroke="none" stroke-width="0.6"/>
<rect x="277.40" y="253.34" width="12.37" height="12.38" fill="#1c1a70" stroke="none" stroke-width="0.6"/>
<rect x="289.76" y="253.34" width="12.37" height="12.38" fill="#201c6e" stroke="none" stroke-width="0.6"/>
<rect x="302.13" y="253.34" width="12.37" height="12.38" fill="#18166e" stroke="none" stroke-width="0.6"/>
<rect x="314.50" y="253.34" width="12.37" height="12.38" fill="#2c2a6c" stroke="none" stroke-width="0.6"/>
<rect x="326.86" y="253.34" width="12.37" height="12.38" fill="#1e1c6e" stroke="none" stroke-width="0.6"/>
<rect x="339.23" y="253.34" width="12.37" height="12.38" fill="#201c70" stroke="none" stroke-width="0.6"/>
<rect x="351.59" y="253.34" width="12.37" height="12.38" fill="#1e1a70" stroke="none" stroke-width="0.6"/>
<rect x="363.96" y="253.34" width="12.37" height="12.38" fill="#201c70" stroke="none" stroke-width="0.6"/>
<rect x="376.33" y="253.34" width="12.37" height="12.38" fill="#221e6e" stroke="none" stroke-width="0.6"/>
<rect x="388.69" y="253.34" width="12.37" height="12.38" fill="#5a5050" stroke="none" stroke-width="0.6"/>
<rect x="401.06" y="253.34" width="12.37" height="12.38" fill="#4c4460" stroke="none" stroke-width="0.6"/>
<rect x="413.42" y="253.34" width="12.37" height="12.38" fill="#443c64" stroke="none" stroke-width="0.6"/>
<rect x="425.79" y="253.34" width="12.37" height="12.38" fill="#4a4060" stroke="none" stroke-width="0.6"/>
<rect x="438.16" y="253.34" width="12.37" height="12.38" fill="#2c286c" stroke="none" stroke-width="0.6"/>
<rect x="450.52" y="253.34" width="12.37" height="12.38" fill="#2a286c" stroke="none" stroke-width="0.6"/>
<rect x="462.89" y="253.34" width="12.37" height="12.38" fill="#2c2a6c" stroke="none" stroke-width="0.6"/>
<rect x="475.25" y="253.34" width="12.37" height="12.38" fill="#2a286e" stroke="none" stroke-width="0.6"/>
<rect x="487.62" y="253.34" width="12.37" height="12.38" fill="#26246e" stroke="none" stroke-width="0.6"/>
<rect x="499.99" y="253.34" width="12.37" height="12.38" fill="#2c2a6c" stroke="none" stroke-width="0.6"/>
<rect x="512.35" y="253.34" width="12.37" height="12.38" fill="#24206e" stroke="none" stroke-width="0.6"/>
<rect x="524.72" y="253.34" width="12.37" height="12.38" fill="#1e1c70" stroke="none" stroke-width="0.6"/>
<rect x="537.08" y="253.34" width="12.37" height="12.38" fill="#1e1c70" stroke="none" stroke-width="0.6"/>
<rect x="549.45" y="253.34" width="12.37" height="12.38" fill="#2a286c" stroke="none" stroke-width="0.6"/>
<rect x="561.82" y="253.34" width="12.37" height="12.38" fill="#2a286c" stroke="none" stroke-width="0.6"/>
<rect x="574.18" y="253.34" width="12.37" height="12.38" fill="#3c3664" stroke="none" stroke-width="0.6"/>
<rect x="586.55" y="253.34" width="12.37" height="12.38" fill="#3a3466" stroke="none" stroke-width="0.6"/>
<rect x="240.30" y="265.72" width="12.37" height="12.38" fill="#605448" stroke="none" stroke-width="0.6"/>
<rect x="252.67" y="265.72" width="12.37" height="12.38" fill="#6a5c48" stroke="none" stroke-width="0.6"/>
<rect x="265.03" y="265.72" width="12.37" height="12.38" fill="#6e5e46" stroke="none" stroke-width="0.6"/>
<rect x="277.40" y="265.72" width="12.37" height="12.38" fill="#726244" stroke="none" stroke-width="0.6"/>
<rect x="289.76" y="265.72" width="12.37" height="12.38" fill="#6a5c48" stroke="none" stroke-width="0.6"/>
<rect x="302.13" y="265.72" width="12.37" height="12.38" fill="#625448" stroke="none" stroke-width="0.6"/>
<rect x="314.50" y="265.72" width="12.37" height="12.38" fill="#948430" stroke="none" stroke-width="0.6"/>
<rect x="326.86" y="265.72" width="12.37" height="12.38" fill="#7a6a40" stroke="none" stroke-width="0.6"/>
<rect x="339.23" y="265.72" width="12.37" height="12.38" fill="#746640" stroke="none" stroke-width="0.6"/>
<rect x="351.59" y="265.72" width="12.37" height="12.38" fill="#746640" stroke="none" stroke-width="0.6"/>
<rect x="363.96" y="265.72" width="12.37" height="12.38" fill="#6e6046" stroke="none" stroke-width="0.6"/>
<rect x="376.33" y="265.72" width="12.37" height="12.38" fill="#726444" stroke="none" stroke-width="0.6"/>
<rect x="388.69" y="265.72" width="12.37" height="12.38" fill="#c4aa18" stroke="none" stroke-width="0.6"/>
<rect x="401.06" y="265.72" width="12.37" height="12.38" fill="#7e6e3e" stroke="none" stroke-width="0.6"/>
<rect x="413.42" y="265.72" width="12.37" height="12.38" fill="#7a6a40" stroke="none" stroke-width="0.6"/>
<rect x="425.79" y="265.72" width="12.37" height="12.38" fill="#766840" stroke="none" stroke-width="0.6"/>
<rect x="438.16" y="265.72" width="12.37" height="12.38" fill="#8c7c34" stroke="none" stroke-width="0.6"/>
<rect x="450.52" y="265.72" width="12.37" height="12.38" fill="#766840" stroke="none" stroke-width="0.6"/>
<rect x="462.89" y="265.72" width="12.37" height="12.38" fill="#7a6a3e" stroke="none" stroke-width="0.6"/>
<rect x="475.25" y="265.72" width="12.37" height="12.38" fill="#7a6a3e" stroke="none" stroke-width="0.6"/>
<rect x="487.62" y="265.72" width="12.37" height="12.38" fill="#746640" stroke="none" stroke-width="0.6"/>
<rect x="499.99" y="265.72" width="12.37" height="12.38" fill="#7a6a3e" stroke="none" stroke-width="0.6"/>
<rect x="512.35" y="265.72" width="12.37" height="12.38" fill="#7a6a3e" stroke="none" stroke-width="0.6"/>
<rect x="524.72" y="265.72" width="12.37" height="12.38" fill="#807040" stroke="none" stroke-width="0.6"/>
<rect x="537.08" y="265.72" width="12.37" height="12.38" fill="#7a6a3e" stroke="none" stroke-width="0.6"/>
<rect x="549.45" y="265.72" width="12.37" height="12.38" fill="#8e7e34" stroke="none" stroke-width="0.6"/>
<rect x="561.82" y="265.72" width="12.37" height="12.38" fill="#9a8a2e" stroke="none" stroke-width="0.6"/>
<rect x="574.18" y="265.72" width="12.37" height="12.38" fill="#8a7a36" stroke="none" stroke-width="0.6"/>
<rect x="586.55" y="265.72" width="12.37" height="12.38" fill="#968630" stroke="none" stroke-width="0.6"/>
<line x1="240.30" y1="216.20" x2="240.30" y2="278.10" stroke="#9a9a9a" stroke-width="0.7"/>
<line x1="252.67" y1="216.20" x2="252.67" y2="278.10" stroke="#9a9a9a" stroke-width="0.7"/>
<line x1="265.03" y1="216.20" x2="265.03" y2="278.10" stroke="#9a9a9a" stroke-width="0.7"/>
<line x1="277.40" y1="216.20" x2="277.40" y2="278.10" stroke="#9a9a9a" stroke-width="0.7"/>
<line x1="289.76" y1="216.20" x2="289.76" y2="278.10" stroke="#9a9a9a" stroke-width="0.7"/>
<line x1="302.13" y1="216.20" x2="302.13" y2="278.10" stroke="#9a9a9a" stroke-width="0.7"/>
<line x1="314.50" y1="216.20" x2="314.50" y2="278.10" stroke="#9a9a9a" stroke-width="0.7"/>
<line x1="326.86" y1="216.20" x2="326.86" y2="278.10" stroke="#9a9a9a" stroke-width="0.7"/>
<line x1="339.23" y1="216.20" x2="339.23" y2="278.10" stroke="#9a9a9a" stroke-width="0.7"/>
<line x1="351.59" y1="216.20" x2="351.59" y2="278.10" stroke="#9a9a9a" stroke-width="0.7"/>
<line x1="363.96" y1="216.20" x2="363.96" y2="278.10" stroke="#9a9a9a" stroke-width="0.7"/>
<line x1="376.33" y1="216.20" x2="376.33" y2="278.10" stroke="#9a9a9a" stroke-width="0.7"/>
<line x1="388.69" y1="216.20" x2="388.69" y2="278.10" stroke="#9a9a9a" stroke-width="0.7"/>
<line x1="401.06" y1="216.20" x2="401.06" y2="278.10" stroke="#9a9a9a" stroke-width="0.7"/>
<line x1="413.42" y1="216.20" x2="413.42" y2="278.10" stroke="#9a9a9a" stroke-width="0.7"/>
<line x1="425.79" y1="216.20" x2="425.79" y2="278.10" stroke="#9a9a9a" stroke-width="0.7"/>
<line x1="438.16" y1="216.20" x2="438.16" y2="278.10" stroke="#9a9a9a" stroke-width="0.7"/>
<line x1="450.52" y1="216.20" x2="450.52" y2="278.10" stroke="#9a9a9a" stroke-width="0.7"/>
<line x1="462.89" y1="216.20" x2="462.89" y2="278.10" stroke="#9a9a9a" stroke-width="0.7"/>
<line x1="475.25" y1="216.20" x2="475.25" y2="278.10" stroke="#9a9a9a" stroke-width="0.7"/>
<line x1="487.62" y1="216.20" x2="487.62" y2="278.10" stroke="#9a9a9a" stroke-width="0.7"/>
<line x1="499.99" y1="216.20" x2="499.99" y2="278.10" stroke="#9a9a9a" stroke-width="0.7"/>
<line x1="512.35" y1="216.20" x2="512.35" y2="278.10" stroke="#9a9a9a" stroke-width="0.7"/>
<line x1="524.72" y1="216.20" x2="524.72" y2="278.10" stroke="#9a9a9a" stroke-width="0.7"/>
<line x1="537.08" y1="216.20" x2="537.08" y2="278.10" stroke="#9a9a9a" stroke-width="0.7"/>
<line x1="549.45" y1="216.20" x2="549.45" y2="278.10" stroke="#9a9a9a" stroke-width="0.7"/>
<line x1="561.82" y1="216.20" x2="561.82" y2="278.10" stroke="#9a9a9a" stroke-width="0.7"/>
<line x1="574.18" y1="216.20" x2="574.18" y2="278.10" stroke="#9a9a9a" stroke-width="0.7"/>
<line x1="586.55" y1="216.20" x2="586.55" y2="278.10" stroke="#9a9a9a" stroke-width="0.7"/>
<line x1="598.91" y1="216.20" x2="598.91" y2="278.10" stroke="#9a9a9a" stroke-width="0.7"/>
<line x1="240.30" y1="216.20" x2="598.91" y2="216.20" stroke="#9a9a9a" stroke-width="0.7"/>
<line x1="240.30" y1="228.58" x2="598.91" y2="228.58" stroke="#9a9a9a" stroke-width="0.7"/>
<line x1="240.30" y1="240.96" x2="598.91" y2="240.96" stroke="#9a9a9a" stroke-width="0.7"/>
<line x1="240.30" y1="253.34" x2="598.91" y2="253.34" stroke="#9a9a9a" stroke-width="0.7"/>
<line x1="240.30" y1="265.72" x2="598.91" y2="265.72" stroke="#9a9a9a" stroke-width="0.7"/>
<line x1="240.30" y1="278.10" x2="598.91" y2="278.10" stroke="#9a9a9a" stroke-width="0.7"/>
<text x="601.40" y="226.09" font-size="8.6" text-anchor="start" font-weight="normal" fill="#231f20">CI</text>
<text x="601.40" y="238.47" font-size="8.6" text-anchor="start" font-weight="normal" fill="#231f20">CII</text>
<text x="601.40" y="250.85" font-size="8.6" text-anchor="start" font-weight="normal" fill="#231f20">CIII</text>
<text x="601.40" y="263.23" font-size="8.6" text-anchor="start" font-weight="normal" fill="#231f20">CIV</text>
<text x="601.40" y="275.61" font-size="8.6" text-anchor="start" font-weight="normal" fill="#231f20">CV</text>
<text x="249.48" y="285.50" font-size="8.9" text-anchor="end" font-weight="normal" fill="#231f20" transform="rotate(-45 249.48 285.50)">Fibroblast</text>
<text x="261.85" y="285.50" font-size="8.9" text-anchor="end" font-weight="normal" fill="#231f20" transform="rotate(-45 261.85 285.50)">Pancreas</text>
<text x="274.22" y="285.50" font-size="8.9" text-anchor="end" font-weight="normal" fill="#231f20" transform="rotate(-45 274.22 285.50)">Eye</text>
<text x="286.58" y="285.50" font-size="8.9" text-anchor="end" font-weight="normal" fill="#231f20" transform="rotate(-45 286.58 285.50)">Soft tissue</text>
<text x="298.95" y="285.50" font-size="8.9" text-anchor="end" font-weight="normal" fill="#231f20" transform="rotate(-45 298.95 285.50)">Thyroid</text>
<text x="311.31" y="285.50" font-size="8.9" text-anchor="end" font-weight="normal" fill="#231f20" transform="rotate(-45 311.31 285.50)">Kidney</text>
<text x="323.68" y="285.50" font-size="8.9" text-anchor="end" font-weight="normal" fill="#231f20" transform="rotate(-45 323.68 285.50)">Testis</text>
<text x="336.05" y="285.50" font-size="8.9" text-anchor="end" font-weight="normal" fill="#231f20" transform="rotate(-45 336.05 285.50)">Pleura</text>
<text x="348.41" y="285.50" font-size="8.9" text-anchor="end" font-weight="normal" fill="#231f20" transform="rotate(-45 348.41 285.50)">CNS/brain</text>
<text x="360.78" y="285.50" font-size="8.9" text-anchor="end" font-weight="normal" fill="#231f20" transform="rotate(-45 360.78 285.50)">Head and neck</text>
<text x="373.14" y="285.50" font-size="8.9" text-anchor="end" font-weight="normal" fill="#231f20" transform="rotate(-45 373.14 285.50)">Bladder/urinary tract</text>
<text x="385.51" y="285.50" font-size="8.9" text-anchor="end" font-weight="normal" fill="#231f20" transform="rotate(-45 385.51 285.50)">Bone</text>
<text x="397.88" y="285.50" font-size="8.9" text-anchor="end" font-weight="normal" fill="#231f20" transform="rotate(-45 397.88 285.50)">Adrenal gland</text>
<text x="410.24" y="285.50" font-size="8.9" text-anchor="end" font-weight="normal" fill="#231f20" transform="rotate(-45 410.24 285.50)">Ampulla of Vater</text>
<text x="422.61" y="285.50" font-size="8.9" text-anchor="end" font-weight="normal" fill="#231f20" transform="rotate(-45 422.61 285.50)">Lymphoid</text>
<text x="434.97" y="285.50" font-size="8.9" text-anchor="end" font-weight="normal" fill="#231f20" transform="rotate(-45 434.97 285.50)">Myeloid</text>
<text x="447.34" y="285.50" font-size="8.9" text-anchor="end" font-weight="normal" fill="#231f20" transform="rotate(-45 447.34 285.50)">Oesophagus/stomach</text>
<text x="459.71" y="285.50" font-size="8.9" text-anchor="end" font-weight="normal" fill="#231f20" transform="rotate(-45 459.71 285.50)">Breast</text>
<text x="472.07" y="285.50" font-size="8.9" text-anchor="end" font-weight="normal" fill="#231f20" transform="rotate(-45 472.07 285.50)">Bowel</text>
<text x="484.44" y="285.50" font-size="8.9" text-anchor="end" font-weight="normal" fill="#231f20" transform="rotate(-45 484.44 285.50)">Lung</text>
<text x="496.80" y="285.50" font-size="8.9" text-anchor="end" font-weight="normal" fill="#231f20" transform="rotate(-45 496.80 285.50)">Skin</text>
<text x="509.17" y="285.50" font-size="8.9" text-anchor="end" font-weight="normal" fill="#231f20" transform="rotate(-45 509.17 285.50)">Uterus</text>
<text x="521.54" y="285.50" font-size="8.9" text-anchor="end" font-weight="normal" fill="#231f20" transform="rotate(-45 521.54 285.50)">Peripheral nervous system</text>
<text x="533.90" y="285.50" font-size="8.9" text-anchor="end" font-weight="normal" fill="#231f20" transform="rotate(-45 533.90 285.50)">Ovary/fallopian tube</text>
<text x="546.27" y="285.50" font-size="8.9" text-anchor="end" font-weight="normal" fill="#231f20" transform="rotate(-45 546.27 285.50)">Biliary tract</text>
<text x="558.63" y="285.50" font-size="8.9" text-anchor="end" font-weight="normal" fill="#231f20" transform="rotate(-45 558.63 285.50)">Liver</text>
<text x="571.00" y="285.50" font-size="8.9" text-anchor="end" font-weight="normal" fill="#231f20" transform="rotate(-45 571.00 285.50)">Cervix</text>
<text x="583.37" y="285.50" font-size="8.9" text-anchor="end" font-weight="normal" fill="#231f20" transform="rotate(-45 583.37 285.50)">Prostate</text>
<text x="595.73" y="285.50" font-size="8.9" text-anchor="end" font-weight="normal" fill="#231f20" transform="rotate(-45 595.73 285.50)">Vulva/vagina</text>
<defs><linearGradient id="cb" x1="0" y1="0" x2="0" y2="1"><stop offset="0" stop-color="#000080"/><stop offset="0.12" stop-color="#05057e"/><stop offset="0.22" stop-color="#121270"/><stop offset="0.32" stop-color="#2a285e"/><stop offset="0.42" stop-color="#4a4450"/><stop offset="0.52" stop-color="#6c6040"/><stop offset="0.62" stop-color="#948030"/><stop offset="0.72" stop-color="#c4aa14"/><stop offset="0.82" stop-color="#f0d400"/><stop offset="1" stop-color="#ffe200"/></linearGradient></defs>
<rect x="624.40" y="226.40" width="10.20" height="60.90" fill="url(#cb)" stroke="none" stroke-width="0.6"/>
<line x1="624.40" y1="228.40" x2="626.00" y2="228.40" stroke="#fff" stroke-width="0.5"/>
<line x1="633.00" y1="228.40" x2="634.60" y2="228.40" stroke="#fff" stroke-width="0.5"/>
<text x="637.60" y="231.60" font-size="7.8" text-anchor="start" font-weight="normal" fill="#231f20">0</text>
<line x1="624.40" y1="240.00" x2="626.00" y2="240.00" stroke="#fff" stroke-width="0.5"/>
<line x1="633.00" y1="240.00" x2="634.60" y2="240.00" stroke="#fff" stroke-width="0.5"/>
<text x="637.60" y="243.20" font-size="7.8" text-anchor="start" font-weight="normal" fill="#231f20">−0.2</text>
<line x1="624.40" y1="251.40" x2="626.00" y2="251.40" stroke="#fff" stroke-width="0.5"/>
<line x1="633.00" y1="251.40" x2="634.60" y2="251.40" stroke="#fff" stroke-width="0.5"/>
<text x="637.60" y="254.60" font-size="7.8" text-anchor="start" font-weight="normal" fill="#231f20">−0.4</text>
<line x1="624.40" y1="262.70" x2="626.00" y2="262.70" stroke="#fff" stroke-width="0.5"/>
<line x1="633.00" y1="262.70" x2="634.60" y2="262.70" stroke="#fff" stroke-width="0.5"/>
<text x="637.60" y="265.90" font-size="7.8" text-anchor="start" font-weight="normal" fill="#231f20">−0.6</text>
<line x1="624.40" y1="274.30" x2="626.00" y2="274.30" stroke="#fff" stroke-width="0.5"/>
<line x1="633.00" y1="274.30" x2="634.60" y2="274.30" stroke="#fff" stroke-width="0.5"/>
<text x="637.60" y="277.50" font-size="7.8" text-anchor="start" font-weight="normal" fill="#231f20">−0.8</text>
<line x1="624.40" y1="285.70" x2="626.00" y2="285.70" stroke="#fff" stroke-width="0.5"/>
<line x1="633.00" y1="285.70" x2="634.60" y2="285.70" stroke="#fff" stroke-width="0.5"/>
<text x="637.60" y="288.90" font-size="7.8" text-anchor="start" font-weight="normal" fill="#231f20">−1.0</text>
<text x="624.60" y="222.30" font-size="8.3" text-anchor="start" font-weight="normal" fill="#231f20">CERES score</text>
<path d="M275.3 209.5 V202.2 H425.3 V205.3" stroke="#111" fill="none" stroke-width="0.75"/>
<path d="M246.48 216.2 V209.5 H303.5 V212.5" stroke="#111" fill="none" stroke-width="0.75"/>
<path d="M258.1 215.4 V212.5 H350.0 V214.2" stroke="#111" fill="none" stroke-width="0.75"/>
<path d="M258.85 216.2 V215.4 H275.22 V216.2" stroke="#111" fill="none" stroke-width="0.75"/>
<path d="M273.22 215.4 V213.6 H308.31 V216.2" stroke="#111" fill="none" stroke-width="0.75"/>
<path d="M283.58 216.2 V214.8 H295.95 V216.2" stroke="#111" fill="none" stroke-width="0.75"/>
<path d="M320.68 216.2 V214.2 H382.51 V216.2" stroke="#111" fill="none" stroke-width="0.75"/>
<path d="M333.05 216.2 V214.9 H357.78 V216.2" stroke="#111" fill="none" stroke-width="0.75"/>
<path d="M345.41 216.2 V215.3 H370.14 V216.2" stroke="#111" fill="none" stroke-width="0.75"/>
<path d="M394.88 216.2 V205.3 H456.4 V208.0" stroke="#111" fill="none" stroke-width="0.75"/>
<path d="M416.6 212.5 V208.0 H495.9 V211.4" stroke="#111" fill="none" stroke-width="0.75"/>
<path d="M407.24 216.2 V212.5 H431.97 V216.2" stroke="#111" fill="none" stroke-width="0.75"/>
<path d="M419.61 216.2 V214.6 H444.34 V216.2" stroke="#111" fill="none" stroke-width="0.75"/>
<path d="M453.4 214.0 V211.4 H539.3 V212.4" stroke="#111" fill="none" stroke-width="0.75"/>
<path d="M456.71 216.2 V214.0 H493.80 V216.2" stroke="#111" fill="none" stroke-width="0.75"/>
<path d="M469.07 216.2 V214.8 H481.44 V216.2" stroke="#111" fill="none" stroke-width="0.75"/>
<path d="M506.17 216.2 V213.8 H518.54 V216.2" stroke="#111" fill="none" stroke-width="0.75"/>
<path d="M505.0 213.8 V212.4 H574.0 V213.4" stroke="#111" fill="none" stroke-width="0.75"/>
<path d="M530.90 216.2 V214.6 H543.27 V216.2" stroke="#111" fill="none" stroke-width="0.75"/>
<path d="M555.63 216.2 V213.4 H592.73 V216.2" stroke="#111" fill="none" stroke-width="0.75"/>
<path d="M568.00 216.2 V214.9 H580.37 V216.2" stroke="#111" fill="none" stroke-width="0.75"/>
<text x="-0.20" y="401.30" font-size="12.8" text-anchor="start" font-weight="bold" fill="#000" stroke="#000" stroke-width="0.3">d</text>
<line x1="58.60" y1="406.60" x2="58.60" y2="404.00" stroke="#3a3a3a" stroke-width="0.6"/><circle cx="58.60" cy="404.00" r="0.65" fill="#3a3a3a"/><line x1="52.28" y1="410.25" x2="50.03" y2="408.95" stroke="#3a3a3a" stroke-width="0.6"/><circle cx="50.03" cy="408.95" r="0.65" fill="#3a3a3a"/><line x1="52.28" y1="417.55" x2="50.03" y2="418.85" stroke="#3a3a3a" stroke-width="0.6"/><circle cx="50.03" cy="418.85" r="0.65" fill="#3a3a3a"/><line x1="58.60" y1="421.20" x2="58.60" y2="423.80" stroke="#3a3a3a" stroke-width="0.6"/><circle cx="58.60" cy="423.80" r="0.65" fill="#3a3a3a"/><line x1="64.92" y1="417.55" x2="67.17" y2="418.85" stroke="#3a3a3a" stroke-width="0.6"/><circle cx="67.17" cy="418.85" r="0.65" fill="#3a3a3a"/><line x1="64.92" y1="410.25" x2="67.17" y2="408.95" stroke="#3a3a3a" stroke-width="0.6"/><circle cx="67.17" cy="408.95" r="0.65" fill="#3a3a3a"/>
<circle cx="58.60" cy="413.90" r="7.30" fill="#8c8a8a" stroke="#6e6c6c" stroke-width="0.9"/>
<circle cx="58.60" cy="413.90" r="6.70" fill="none" stroke="#6e6c6c" stroke-width="0.8" stroke-dasharray="0.5 0.5" opacity="0.8"/>
<line x1="48.60" y1="429.40" x2="48.60" y2="426.80" stroke="#b8344f" stroke-width="0.6"/><circle cx="48.60" cy="426.80" r="0.65" fill="#b8344f"/><line x1="42.19" y1="433.10" x2="39.94" y2="431.80" stroke="#b8344f" stroke-width="0.6"/><circle cx="39.94" cy="431.80" r="0.65" fill="#b8344f"/><line x1="42.19" y1="440.50" x2="39.94" y2="441.80" stroke="#b8344f" stroke-width="0.6"/><circle cx="39.94" cy="441.80" r="0.65" fill="#b8344f"/><line x1="48.60" y1="444.20" x2="48.60" y2="446.80" stroke="#b8344f" stroke-width="0.6"/><circle cx="48.60" cy="446.80" r="0.65" fill="#b8344f"/><line x1="55.01" y1="440.50" x2="57.26" y2="441.80" stroke="#b8344f" stroke-width="0.6"/><circle cx="57.26" cy="441.80" r="0.65" fill="#b8344f"/><line x1="55.01" y1="433.10" x2="57.26" y2="431.80" stroke="#b8344f" stroke-width="0.6"/><circle cx="57.26" cy="431.80" r="0.65" fill="#b8344f"/>
<circle cx="48.60" cy="436.80" r="7.40" fill="#e77d8e" stroke="#c95a70" stroke-width="0.9"/>
<circle cx="48.60" cy="436.80" r="6.80" fill="none" stroke="#c95a70" stroke-width="0.8" stroke-dasharray="0.5 0.5" opacity="0.8"/>
<text x="70.00" y="417.60" font-size="8.4" text-anchor="start" font-weight="normal" fill="#231f20">shNT</text>
<text x="36.40" y="424.80" font-size="9.0" text-anchor="start" font-weight="normal" fill="#231f20">or</text>
<text x="60.3" y="434.8" font-size="8.4" fill="#231f20">sh<tspan font-style="italic">Sdhb</tspan></text>
<path d="M100.1 418.1 C112 420 121 427 120.6 435 C120.2 442 114 447 109.8 448.6" stroke="#3d5577" fill="none" stroke-width="0.8"/>
<path d="M108.2 449.3 L112.2 445.2 L112.6 448.4 Z" stroke="none" fill="#3d5577" stroke-width="0.6"/>
<defs><radialGradient id="nuc" cx="0.4" cy="0.35" r="0.7"><stop offset="0" stop-color="#c4c2ea"/><stop offset="1" stop-color="#9391c9"/></radialGradient></defs>
<polygon points="88.72,457.63 87.02,459.66 86.30,462.21 83.77,463.01 81.78,464.76 79.23,464.07 76.61,464.46 74.83,462.50 72.41,461.42 71.98,458.80 70.53,456.59 71.59,454.16 71.56,451.51 73.76,450.03 75.18,447.79 77.83,447.74 80.23,446.62 82.48,448.00 85.11,448.36 86.26,450.74 88.27,452.46 87.95,455.09" fill="#cbcbef" stroke="#aeaee0" stroke-width="0.8" stroke-linejoin="round"/>
<circle cx="79.90" cy="456.20" r="5.70" fill="url(#nuc)" stroke="none" stroke-width="0.6"/>
<polygon points="103.82,448.43 102.12,450.46 101.40,453.01 98.87,453.81 96.88,455.56 94.33,454.87 91.71,455.26 89.93,453.30 87.51,452.22 87.08,449.60 85.63,447.39 86.69,444.96 86.66,442.31 88.86,440.83 90.28,438.59 92.93,438.54 95.33,437.42 97.58,438.80 100.21,439.16 101.36,441.54 103.37,443.26 103.05,445.89" fill="#cbcbef" stroke="#aeaee0" stroke-width="0.8" stroke-linejoin="round"/>
<circle cx="95.00" cy="447.00" r="5.70" fill="url(#nuc)" stroke="none" stroke-width="0.6"/>
<polygon points="102.52,463.63 100.82,465.66 100.10,468.21 97.57,469.01 95.58,470.76 93.03,470.07 90.41,470.46 88.63,468.50 86.21,467.42 85.78,464.80 84.33,462.59 85.39,460.16 85.36,457.51 87.56,456.03 88.98,453.79 91.63,453.74 94.03,452.62 96.28,454.00 98.91,454.36 100.06,456.74 102.07,458.46 101.75,461.09" fill="#cbcbef" stroke="#aeaee0" stroke-width="0.8" stroke-linejoin="round"/>
<circle cx="93.70" cy="462.20" r="5.70" fill="url(#nuc)" stroke="none" stroke-width="0.6"/>
<text x="86.20" y="480.00" font-size="8.3" text-anchor="middle" font-weight="normal" fill="#231f20">MLL-AF9</text>
<g transform="translate(37.4 470.6) rotate(43)"><line x1="0" y1="-2.3" x2="0" y2="2.3" stroke="#2a2a2a" stroke-width="1.2"/><line x1="0" y1="0" x2="3" y2="0" stroke="#333" stroke-width="0.9"/><line x1="2.8" y1="-2.1" x2="2.8" y2="2.1" stroke="#333" stroke-width="0.9"/><rect x="3.0" y="-1.45" width="12.0" height="2.9" fill="#fff" stroke="#444" stroke-width="0.7"/><line x1="4" y1="0" x2="10" y2="0" stroke="#999" stroke-width="0.5"/><rect x="10.2" y="-1.3" width="4.8" height="2.6" fill="#4a4a4a"/><path d="M15 -0.9 L16.6 -0.4 L16.6 0.4 L15 0.9 Z" fill="#777"/><line x1="16.6" y1="0" x2="24.5" y2="0" stroke="#666" stroke-width="0.55"/></g>
<g transform="translate(41.00 488.80)"><path d="M0.8 9.4 C-2.8 10.2 -4.6 13.2 -2.8 14.4 C-0.6 15.2 5 14.4 10.4 14.0" fill="none" stroke="#b86c64" stroke-width="0.8"/><path d="M2.8 11.2 L6.5 11.6 M15.4 10.2 L18.8 11.4" stroke="#c98a84" stroke-width="0.9"/><path d="M0.1 8.7 C0.2 4.5 4.5 1.5 9 1.3 C12 1.2 14.5 1.5 16.4 2.2 C18.6 3.0 21 3.9 22.2 4.9 C21.4 6.0 19.6 6.6 18.2 7.3 C16.5 11.4 7 12.2 0.1 8.7 Z" fill="#474141"/><ellipse cx="16.0" cy="2.2" rx="1.4" ry="2.0" transform="rotate(15 16 2.2)" fill="#474141"/><ellipse cx="15.6" cy="3.6" rx="0.75" ry="1.3" transform="rotate(15 15.6 3.6)" fill="#d59390"/></g>
<g transform="translate(65.80 488.80)"><path d="M0.8 9.4 C-2.8 10.2 -4.6 13.2 -2.8 14.4 C-0.6 15.2 5 14.4 10.4 14.0" fill="none" stroke="#b86c64" stroke-width="0.8"/><path d="M2.8 11.2 L6.5 11.6 M15.4 10.2 L18.8 11.4" stroke="#c98a84" stroke-width="0.9"/><path d="M0.1 8.7 C0.2 4.5 4.5 1.5 9 1.3 C12 1.2 14.5 1.5 16.4 2.2 C18.6 3.0 21 3.9 22.2 4.9 C21.4 6.0 19.6 6.6 18.2 7.3 C16.5 11.4 7 12.2 0.1 8.7 Z" fill="#474141"/><ellipse cx="16.0" cy="2.2" rx="1.4" ry="2.0" transform="rotate(15 16 2.2)" fill="#474141"/><ellipse cx="15.6" cy="3.6" rx="0.75" ry="1.3" transform="rotate(15 15.6 3.6)" fill="#d59390"/></g>
<g transform="translate(90.60 488.80)"><path d="M0.8 9.4 C-2.8 10.2 -4.6 13.2 -2.8 14.4 C-0.6 15.2 5 14.4 10.4 14.0" fill="none" stroke="#b86c64" stroke-width="0.8"/><path d="M2.8 11.2 L6.5 11.6 M15.4 10.2 L18.8 11.4" stroke="#c98a84" stroke-width="0.9"/><path d="M0.1 8.7 C0.2 4.5 4.5 1.5 9 1.3 C12 1.2 14.5 1.5 16.4 2.2 C18.6 3.0 21 3.9 22.2 4.9 C21.4 6.0 19.6 6.6 18.2 7.3 C16.5 11.4 7 12.2 0.1 8.7 Z" fill="#474141"/><ellipse cx="16.0" cy="2.2" rx="1.4" ry="2.0" transform="rotate(15 16 2.2)" fill="#474141"/><ellipse cx="15.6" cy="3.6" rx="0.75" ry="1.3" transform="rotate(15 15.6 3.6)" fill="#d59390"/></g>
<line x1="59.30" y1="507.90" x2="59.30" y2="545.50" stroke="#231f20" stroke-width="0.8"/>
<circle cx="59.30" cy="546.80" r="1.30" fill="#fff" stroke="#231f20" stroke-width="0.6"/>
<line x1="93.50" y1="507.90" x2="93.50" y2="576.00" stroke="#4d6891" stroke-width="0.8"/>
<path d="M91.9 574.6 L95.1 574.6 L93.5 578.3 Z" stroke="none" fill="#4d6891" stroke-width="0.6"/>
<path d="M96.4 508.7 L102.6 505.6 L102.6 511.8 Z" stroke="none" fill="#000" stroke-width="0.6"/>
<text x="105.60" y="511.70" font-size="8.4" text-anchor="start" font-weight="normal" fill="#231f20">Dox</text>
<path d="M62.6 530.7 L68.9 527.6 L68.9 533.8 Z" stroke="none" fill="#000" stroke-width="0.6"/>
<text x="71.50" y="533.70" font-size="8.4" text-anchor="start" font-weight="normal" fill="#231f20">Dox</text>
<text x="59.30" y="558.60" font-size="8.6" text-anchor="middle" font-weight="normal" fill="#231f20">Bone</text>
<text x="59.30" y="568.70" font-size="8.6" text-anchor="middle" font-weight="normal" fill="#231f20">marrow and</text>
<text x="59.30" y="578.80" font-size="8.6" text-anchor="middle" font-weight="normal" fill="#231f20">spleen</text>
<text x="91.50" y="592.80" font-size="8.7" text-anchor="middle" font-weight="normal" fill="#231f20">Survival</text>
<text x="154.90" y="401.50" font-size="12.8" text-anchor="start" font-weight="bold" fill="#000" stroke="#000" stroke-width="0.3">e</text>
<line x1="197.90" y1="433.50" x2="197.90" y2="563.00" stroke="#6d6e71" stroke-width="0.7"/>
<line x1="197.90" y1="563.00" x2="296.00" y2="563.00" stroke="#6d6e71" stroke-width="0.7"/>
<line x1="194.20" y1="563.00" x2="197.90" y2="563.00" stroke="#6d6e71" stroke-width="0.7"/>
<text x="190.60" y="565.60" font-size="7.7" text-anchor="end" font-weight="normal" fill="#414042">0</text>
<line x1="194.20" y1="537.10" x2="197.90" y2="537.10" stroke="#6d6e71" stroke-width="0.7"/>
<text x="190.60" y="539.70" font-size="7.7" text-anchor="end" font-weight="normal" fill="#414042">10</text>
<line x1="194.20" y1="511.20" x2="197.90" y2="511.20" stroke="#6d6e71" stroke-width="0.7"/>
<text x="190.60" y="513.80" font-size="7.7" text-anchor="end" font-weight="normal" fill="#414042">20</text>
<line x1="194.20" y1="485.30" x2="197.90" y2="485.30" stroke="#6d6e71" stroke-width="0.7"/>
<text x="190.60" y="487.90" font-size="7.7" text-anchor="end" font-weight="normal" fill="#414042">30</text>
<line x1="194.20" y1="459.40" x2="197.90" y2="459.40" stroke="#6d6e71" stroke-width="0.7"/>
<text x="190.60" y="462.00" font-size="7.7" text-anchor="end" font-weight="normal" fill="#414042">40</text>
<line x1="194.20" y1="433.50" x2="197.90" y2="433.50" stroke="#6d6e71" stroke-width="0.7"/>
<text x="190.60" y="436.10" font-size="7.7" text-anchor="end" font-weight="normal" fill="#414042">50</text>
<line x1="217.60" y1="563.00" x2="217.60" y2="566.20" stroke="#6d6e71" stroke-width="0.7"/>
<line x1="247.50" y1="563.00" x2="247.50" y2="566.20" stroke="#6d6e71" stroke-width="0.7"/>
<line x1="276.60" y1="563.00" x2="276.60" y2="566.20" stroke="#6d6e71" stroke-width="0.7"/>
<path d="M208.4 563.00 V514.31 H226.4 V563.00" stroke="#58595b" fill="#fff" stroke-width="0.8"/>
<line x1="217.60" y1="483.49" x2="217.60" y2="544.35" stroke="#58595b" stroke-width="0.7"/>
<line x1="212.60" y1="483.49" x2="222.60" y2="483.49" stroke="#58595b" stroke-width="0.7"/>
<line x1="212.60" y1="544.35" x2="222.60" y2="544.35" stroke="#58595b" stroke-width="0.7"/>
<circle cx="217.60" cy="438.68" r="2.10" fill="#404040" stroke="none" stroke-width="0.6"/>
<circle cx="217.60" cy="496.44" r="2.10" fill="#404040" stroke="none" stroke-width="0.6"/>
<circle cx="217.60" cy="504.73" r="2.10" fill="#404040" stroke="none" stroke-width="0.6"/>
<circle cx="217.60" cy="511.20" r="2.10" fill="#404040" stroke="none" stroke-width="0.6"/>
<circle cx="217.60" cy="517.42" r="2.10" fill="#404040" stroke="none" stroke-width="0.6"/>
<circle cx="217.60" cy="522.86" r="2.10" fill="#404040" stroke="none" stroke-width="0.6"/>
<circle cx="210.10" cy="531.92" r="2.10" fill="#404040" stroke="none" stroke-width="0.6"/>
<circle cx="225.30" cy="530.37" r="2.10" fill="#404040" stroke="none" stroke-width="0.6"/>
<circle cx="210.10" cy="542.54" r="2.10" fill="#404040" stroke="none" stroke-width="0.6"/>
<circle cx="225.30" cy="540.47" r="2.10" fill="#404040" stroke="none" stroke-width="0.6"/>
<rect x="237.70" y="558.70" width="3.80" height="3.80" fill="#13239a" stroke="none" stroke-width="0.6"/>
<rect x="240.70" y="558.70" width="3.80" height="3.80" fill="#13239a" stroke="none" stroke-width="0.6"/>
<rect x="243.70" y="558.70" width="3.80" height="3.80" fill="#13239a" stroke="none" stroke-width="0.6"/>
<rect x="246.70" y="558.70" width="3.80" height="3.80" fill="#13239a" stroke="none" stroke-width="0.6"/>
<rect x="249.70" y="558.70" width="3.80" height="3.80" fill="#13239a" stroke="none" stroke-width="0.6"/>
<rect x="253.40" y="558.70" width="3.80" height="3.80" fill="#13239a" stroke="none" stroke-width="0.6"/>
<rect x="237.70" y="555.50" width="3.80" height="3.80" fill="#13239a" stroke="none" stroke-width="0.6"/>
<rect x="240.70" y="555.50" width="3.80" height="3.80" fill="#13239a" stroke="none" stroke-width="0.6"/>
<rect x="243.70" y="555.50" width="3.80" height="3.80" fill="#13239a" stroke="none" stroke-width="0.6"/>
<rect x="246.70" y="555.50" width="3.80" height="3.80" fill="#13239a" stroke="none" stroke-width="0.6"/>
<rect x="249.70" y="555.50" width="3.80" height="3.80" fill="#13239a" stroke="none" stroke-width="0.6"/>
<rect x="253.40" y="555.50" width="3.80" height="3.80" fill="#13239a" stroke="none" stroke-width="0.6"/>
<rect x="246.70" y="549.30" width="3.80" height="3.80" fill="#13239a" stroke="none" stroke-width="0.6"/>
<rect x="246.70" y="552.10" width="3.80" height="3.80" fill="#13239a" stroke="none" stroke-width="0.6"/>
<rect x="243.10" y="552.90" width="3.80" height="3.80" fill="#13239a" stroke="none" stroke-width="0.6"/>
<rect x="250.10" y="553.30" width="3.80" height="3.80" fill="#13239a" stroke="none" stroke-width="0.6"/>
<path d="M269.20 558.13 L271.30 561.91 L267.10 561.91 Z" stroke="none" fill="#13239a" stroke-width="0.5"/>
<path d="M272.20 558.13 L274.30 561.91 L270.10 561.91 Z" stroke="none" fill="#13239a" stroke-width="0.5"/>
<path d="M275.20 558.13 L277.30 561.91 L273.10 561.91 Z" stroke="none" fill="#13239a" stroke-width="0.5"/>
<path d="M278.20 558.13 L280.30 561.91 L276.10 561.91 Z" stroke="none" fill="#13239a" stroke-width="0.5"/>
<path d="M281.20 558.13 L283.30 561.91 L279.10 561.91 Z" stroke="none" fill="#13239a" stroke-width="0.5"/>
<path d="M284.20 558.13 L286.30 561.91 L282.10 561.91 Z" stroke="none" fill="#13239a" stroke-width="0.5"/>
<path d="M271.00 557.15 L272.90 560.57 L269.10 560.57 Z" stroke="none" fill="#13239a" stroke-width="0.5"/>
<path d="M276.50 557.15 L278.40 560.57 L274.60 560.57 Z" stroke="none" fill="#13239a" stroke-width="0.5"/>
<path d="M282.00 557.15 L283.90 560.57 L280.10 560.57 Z" stroke="none" fill="#13239a" stroke-width="0.5"/>
<text x="221.40" y="577.00" font-size="8.2" text-anchor="end" fill="#231f20" transform="rotate(-45 221.40 577.00)">shNT</text>
<text x="251.30" y="577.00" font-size="8.2" text-anchor="end" fill="#231f20" transform="rotate(-45 251.30 577.00)">sh<tspan font-style="italic">Sdhb</tspan>.1</text>
<text x="280.40" y="577.00" font-size="8.2" text-anchor="end" fill="#231f20" transform="rotate(-45 280.40 577.00)">sh<tspan font-style="italic">Sdhb</tspan>.2</text>
<text x="163.40" y="498.00" font-size="8.8" text-anchor="middle" fill="#231f20" transform="rotate(-90 163.40 498.00)">Percentage of AML</text>
<text x="172.60" y="498.00" font-size="8.8" text-anchor="middle" fill="#231f20" transform="rotate(-90 172.60 498.00)">(Venus<tspan dy="-2.6" font-size="5.46">+</tspan><tspan dy="2.6">Crimson</tspan><tspan dy="-2.6" font-size="5.46">+</tspan><tspan dy="2.6">/Venus</tspan><tspan dy="-2.6" font-size="5.46">+</tspan><tspan dy="2.6">)</tspan></text>
<path d="M217.6 405.2 V402.7 H276.6 V549.4" stroke="#414042" fill="none" stroke-width="0.6"/>
<path d="M217.6 430.9 V426.7 H247.5 V539.6" stroke="#414042" fill="none" stroke-width="0.6"/>
<text x="230.00" y="398.30" font-size="7.1" text-anchor="start" fill="#231f20"><tspan font-style="italic">P</tspan> &lt; 0.0001</text>
<text x="215.20" y="422.80" font-size="7.1" text-anchor="start" fill="#231f20"><tspan font-style="italic">P</tspan> &lt; 0.0001</text>
<text x="320.90" y="401.20" font-size="12.8" text-anchor="start" font-weight="bold" fill="#000" stroke="#000" stroke-width="0.3">f</text>
<line x1="361.90" y1="433.10" x2="361.90" y2="562.50" stroke="#6d6e71" stroke-width="0.7"/>
<line x1="361.90" y1="562.50" x2="460.50" y2="562.50" stroke="#6d6e71" stroke-width="0.7"/>
<line x1="358.20" y1="562.50" x2="361.90" y2="562.50" stroke="#6d6e71" stroke-width="0.7"/>
<text x="354.60" y="565.10" font-size="7.7" text-anchor="end" font-weight="normal" fill="#414042">0</text>
<line x1="358.20" y1="530.15" x2="361.90" y2="530.15" stroke="#6d6e71" stroke-width="0.7"/>
<text x="354.60" y="532.75" font-size="7.7" text-anchor="end" font-weight="normal" fill="#414042">5</text>
<line x1="358.20" y1="497.80" x2="361.90" y2="497.80" stroke="#6d6e71" stroke-width="0.7"/>
<text x="354.60" y="500.40" font-size="7.7" text-anchor="end" font-weight="normal" fill="#414042">10</text>
<line x1="358.20" y1="465.45" x2="361.90" y2="465.45" stroke="#6d6e71" stroke-width="0.7"/>
<text x="354.60" y="468.05" font-size="7.7" text-anchor="end" font-weight="normal" fill="#414042">15</text>
<line x1="358.20" y1="433.10" x2="361.90" y2="433.10" stroke="#6d6e71" stroke-width="0.7"/>
<text x="354.60" y="435.70" font-size="7.7" text-anchor="end" font-weight="normal" fill="#414042">20</text>
<line x1="381.30" y1="562.50" x2="381.30" y2="565.70" stroke="#6d6e71" stroke-width="0.7"/>
<line x1="410.70" y1="562.50" x2="410.70" y2="565.70" stroke="#6d6e71" stroke-width="0.7"/>
<line x1="440.20" y1="562.50" x2="440.20" y2="565.70" stroke="#6d6e71" stroke-width="0.7"/>
<path d="M372.4 562.50 V495.21 H390.6 V562.50" stroke="#58595b" fill="#fff" stroke-width="0.8"/>
<line x1="381.50" y1="455.10" x2="381.50" y2="534.03" stroke="#58595b" stroke-width="0.7"/>
<line x1="376.50" y1="455.10" x2="386.50" y2="455.10" stroke="#58595b" stroke-width="0.7"/>
<line x1="376.50" y1="534.03" x2="386.50" y2="534.03" stroke="#58595b" stroke-width="0.7"/>
<circle cx="374.30" cy="461.57" r="2.10" fill="#404040" stroke="none" stroke-width="0.6"/>
<circle cx="381.50" cy="465.45" r="2.10" fill="#404040" stroke="none" stroke-width="0.6"/>
<circle cx="388.80" cy="464.80" r="2.10" fill="#404040" stroke="none" stroke-width="0.6"/>
<circle cx="374.30" cy="468.04" r="2.10" fill="#404040" stroke="none" stroke-width="0.6"/>
<circle cx="388.80" cy="474.51" r="2.10" fill="#404040" stroke="none" stroke-width="0.6"/>
<circle cx="381.50" cy="478.39" r="2.10" fill="#404040" stroke="none" stroke-width="0.6"/>
<circle cx="381.50" cy="484.86" r="2.10" fill="#404040" stroke="none" stroke-width="0.6"/>
<circle cx="381.50" cy="537.27" r="2.10" fill="#404040" stroke="none" stroke-width="0.6"/>
<circle cx="381.50" cy="551.82" r="2.10" fill="#404040" stroke="none" stroke-width="0.6"/>
<circle cx="381.50" cy="562.18" r="2.10" fill="#404040" stroke="none" stroke-width="0.6"/>
<rect x="401.10" y="558.70" width="3.80" height="3.80" fill="#13239a" stroke="none" stroke-width="0.6"/>
<rect x="404.10" y="558.70" width="3.80" height="3.80" fill="#13239a" stroke="none" stroke-width="0.6"/>
<rect x="407.10" y="558.70" width="3.80" height="3.80" fill="#13239a" stroke="none" stroke-width="0.6"/>
<rect x="410.10" y="558.70" width="3.80" height="3.80" fill="#13239a" stroke="none" stroke-width="0.6"/>
<rect x="413.10" y="558.70" width="3.80" height="3.80" fill="#13239a" stroke="none" stroke-width="0.6"/>
<rect x="416.60" y="558.70" width="3.80" height="3.80" fill="#13239a" stroke="none" stroke-width="0.6"/>
<rect x="401.10" y="555.70" width="3.80" height="3.80" fill="#13239a" stroke="none" stroke-width="0.6"/>
<rect x="404.10" y="555.70" width="3.80" height="3.80" fill="#13239a" stroke="none" stroke-width="0.6"/>
<rect x="407.10" y="555.70" width="3.80" height="3.80" fill="#13239a" stroke="none" stroke-width="0.6"/>
<rect x="410.10" y="555.70" width="3.80" height="3.80" fill="#13239a" stroke="none" stroke-width="0.6"/>
<rect x="413.10" y="555.70" width="3.80" height="3.80" fill="#13239a" stroke="none" stroke-width="0.6"/>
<rect x="416.60" y="555.70" width="3.80" height="3.80" fill="#13239a" stroke="none" stroke-width="0.6"/>
<rect x="404.60" y="552.90" width="3.80" height="3.80" fill="#13239a" stroke="none" stroke-width="0.6"/>
<rect x="407.60" y="552.30" width="3.80" height="3.80" fill="#13239a" stroke="none" stroke-width="0.6"/>
<rect x="410.60" y="550.70" width="3.80" height="3.80" fill="#13239a" stroke="none" stroke-width="0.6"/>
<rect x="413.60" y="550.70" width="3.80" height="3.80" fill="#13239a" stroke="none" stroke-width="0.6"/>
<rect x="411.60" y="553.10" width="3.80" height="3.80" fill="#13239a" stroke="none" stroke-width="0.6"/>
<path d="M431.2 562.5 V555.4 H449.6 V562.5" stroke="#13239a" fill="#fff" stroke-width="0.6"/>
<line x1="440.20" y1="548.20" x2="440.20" y2="557.30" stroke="#13239a" stroke-width="0.5"/>
<line x1="436.80" y1="548.20" x2="443.60" y2="548.20" stroke="#13239a" stroke-width="0.5"/>
<line x1="436.00" y1="557.30" x2="441.50" y2="557.30" stroke="#13239a" stroke-width="0.5"/>
<path d="M433.00 546.28 L435.15 550.15 L430.85 550.15 Z" stroke="none" fill="#13239a" stroke-width="0.5"/>
<path d="M437.70 544.88 L439.85 548.75 L435.55 548.75 Z" stroke="none" fill="#13239a" stroke-width="0.5"/>
<path d="M447.70 548.18 L449.85 552.05 L445.55 552.05 Z" stroke="none" fill="#13239a" stroke-width="0.5"/>
<path d="M433.00 551.58 L435.15 555.45 L430.85 555.45 Z" stroke="none" fill="#13239a" stroke-width="0.5"/>
<path d="M437.70 550.58 L439.85 554.45 L435.55 554.45 Z" stroke="none" fill="#13239a" stroke-width="0.5"/>
<path d="M442.90 551.08 L445.05 554.95 L440.75 554.95 Z" stroke="none" fill="#13239a" stroke-width="0.5"/>
<path d="M447.70 553.88 L449.85 557.75 L445.55 557.75 Z" stroke="none" fill="#13239a" stroke-width="0.5"/>
<path d="M433.00 558.18 L435.15 562.05 L430.85 562.05 Z" stroke="none" fill="#13239a" stroke-width="0.5"/>
<path d="M442.40 555.78 L444.55 559.65 L440.25 559.65 Z" stroke="none" fill="#13239a" stroke-width="0.5"/>
<text x="385.10" y="576.50" font-size="8.2" text-anchor="end" fill="#231f20" transform="rotate(-45 385.10 576.50)">shNT</text>
<text x="414.50" y="576.50" font-size="8.2" text-anchor="end" fill="#231f20" transform="rotate(-45 414.50 576.50)">sh<tspan font-style="italic">Sdhb</tspan>.1</text>
<text x="444.00" y="576.50" font-size="8.2" text-anchor="end" fill="#231f20" transform="rotate(-45 444.00 576.50)">sh<tspan font-style="italic">Sdhb</tspan>.2</text>
<text x="328.00" y="498.00" font-size="8.8" text-anchor="middle" fill="#231f20" transform="rotate(-90 328.00 498.00)">Percentage of AML</text>
<text x="337.20" y="498.00" font-size="8.8" text-anchor="middle" fill="#231f20" transform="rotate(-90 337.20 498.00)">(Venus<tspan dy="-2.6" font-size="5.46">+</tspan><tspan dy="2.6">Crimson</tspan><tspan dy="-2.6" font-size="5.46">+</tspan><tspan dy="2.6">/Venus</tspan><tspan dy="-2.6" font-size="5.46">+</tspan><tspan dy="2.6">)</tspan></text>
<path d="M381.3 422.0 V416.7 H440.2 V536.6" stroke="#414042" fill="none" stroke-width="0.6"/>
<path d="M381.3 446.1 V442.6 H410.5 V542.4" stroke="#414042" fill="none" stroke-width="0.6"/>
<text x="393.40" y="412.90" font-size="7.1" text-anchor="start" fill="#231f20"><tspan font-style="italic">P</tspan> &lt; 0.0001</text>
<text x="378.30" y="439.00" font-size="7.1" text-anchor="start" fill="#231f20"><tspan font-style="italic">P</tspan> &lt; 0.0001</text>
<text x="478.50" y="401.30" font-size="12.8" text-anchor="start" font-weight="bold" fill="#000" stroke="#000" stroke-width="0.3">g</text>
<line x1="511.20" y1="433.80" x2="511.20" y2="563.20" stroke="#6d6e71" stroke-width="0.7"/>
<line x1="508.60" y1="563.20" x2="667.50" y2="563.20" stroke="#6d6e71" stroke-width="0.7"/>
<line x1="507.20" y1="563.20" x2="511.20" y2="563.20" stroke="#6d6e71" stroke-width="0.7"/>
<text x="504.00" y="565.80" font-size="7.6" text-anchor="end" font-weight="normal" fill="#414042">0</text>
<line x1="507.20" y1="498.50" x2="511.20" y2="498.50" stroke="#6d6e71" stroke-width="0.7"/>
<text x="504.00" y="501.10" font-size="7.6" text-anchor="end" font-weight="normal" fill="#414042">50</text>
<line x1="507.20" y1="433.80" x2="511.20" y2="433.80" stroke="#6d6e71" stroke-width="0.7"/>
<text x="504.00" y="436.40" font-size="7.6" text-anchor="end" font-weight="normal" fill="#414042">100</text>
<line x1="511.20" y1="563.20" x2="511.20" y2="566.40" stroke="#6d6e71" stroke-width="0.7"/>
<text x="511.20" y="577.20" font-size="7.6" text-anchor="middle" font-weight="normal" fill="#414042">0</text>
<line x1="563.30" y1="563.20" x2="563.30" y2="566.40" stroke="#6d6e71" stroke-width="0.7"/>
<text x="563.30" y="577.20" font-size="7.6" text-anchor="middle" font-weight="normal" fill="#414042">10</text>
<line x1="615.40" y1="563.20" x2="615.40" y2="566.40" stroke="#6d6e71" stroke-width="0.7"/>
<text x="615.40" y="577.20" font-size="7.6" text-anchor="middle" font-weight="normal" fill="#414042">20</text>
<line x1="667.50" y1="563.20" x2="667.50" y2="566.40" stroke="#6d6e71" stroke-width="0.7"/>
<text x="667.50" y="577.20" font-size="7.6" text-anchor="middle" font-weight="normal" fill="#414042">30</text>
<text x="589.20" y="589.00" font-size="7.9" text-anchor="middle" font-weight="normal" fill="#231f20">Days</text>
<text x="486.00" y="498.60" font-size="9.0" text-anchor="middle" font-weight="normal" fill="#231f20" transform="rotate(-90 486.00 498.60)">Survival (%)</text>
<path d="M620.61 472.62 L620.61 511.44 L625.82 511.44 L625.82 537.32 L631.03 537.32 L631.03 563.20" stroke="#1fb51f" fill="none" stroke-width="1.4"/>
<path d="M511.20 433.80 L615.40 433.80 L615.40 446.74 L620.61 446.74 L620.61 472.62 L625.82 472.62 L625.82 524.38 L631.03 524.38 L631.03 537.32 L636.24 537.32 L636.24 550.26 L646.66 550.26 L646.66 563.20" stroke="#66b6f0" fill="none" stroke-width="1.4"/>
<path d="M511.20 433.80 L610.19 433.80 L610.19 524.38 L615.40 524.38 L615.40 537.32 L620.61 537.32 L620.61 563.20" stroke="#f59c9c" fill="none" stroke-width="1.4"/>
<line x1="615.40" y1="444.94" x2="615.40" y2="447.64" stroke="#000" stroke-width="0.9"/>
<line x1="620.61" y1="470.82" x2="620.61" y2="473.52" stroke="#000" stroke-width="0.9"/>
<line x1="620.61" y1="509.64" x2="620.61" y2="512.34" stroke="#000" stroke-width="0.9"/>
<line x1="625.82" y1="522.58" x2="625.82" y2="525.28" stroke="#000" stroke-width="0.9"/>
<line x1="625.82" y1="535.52" x2="625.82" y2="538.22" stroke="#000" stroke-width="0.9"/>
<line x1="631.03" y1="535.52" x2="631.03" y2="538.22" stroke="#000" stroke-width="0.9"/>
<line x1="636.24" y1="548.46" x2="636.24" y2="551.16" stroke="#000" stroke-width="0.9"/>
<line x1="646.66" y1="561.40" x2="646.66" y2="564.10" stroke="#000" stroke-width="0.9"/>
<line x1="631.03" y1="561.40" x2="631.03" y2="564.10" stroke="#000" stroke-width="0.9"/>
<line x1="610.19" y1="522.58" x2="610.19" y2="525.28" stroke="#000" stroke-width="0.9"/>
<line x1="615.40" y1="535.52" x2="615.40" y2="538.22" stroke="#000" stroke-width="0.9"/>
<text x="605.70" y="492.40" font-size="7.6" text-anchor="end" fill="#231f20"><tspan font-style="italic">P</tspan> = 0.0006</text>
<text x="605.70" y="502.60" font-size="7.6" text-anchor="end" fill="#231f20"><tspan font-style="italic">P</tspan> = 0.0001</text>
<line x1="611.70" y1="489.70" x2="619.40" y2="489.70" stroke="#111" stroke-width="0.9"/>
<line x1="611.70" y1="499.90" x2="625.40" y2="499.90" stroke="#111" stroke-width="0.9"/>
<line x1="516.50" y1="531.50" x2="530.90" y2="531.50" stroke="#f59c9c" stroke-width="1.6"/>
<line x1="523.70" y1="529.90" x2="523.70" y2="532.30" stroke="#000" stroke-width="0.9"/>
<text x="536.0" y="534.10" font-size="7.9" fill="#231f20">shNT</text>
<line x1="516.50" y1="542.90" x2="530.90" y2="542.90" stroke="#66b6f0" stroke-width="1.6"/>
<line x1="523.70" y1="541.30" x2="523.70" y2="543.70" stroke="#000" stroke-width="0.9"/>
<text x="536.0" y="545.50" font-size="7.9" fill="#231f20">sh<tspan font-style="italic">Sdhb</tspan>.1</text>
<line x1="516.50" y1="555.50" x2="530.90" y2="555.50" stroke="#1fb51f" stroke-width="2.0"/>
<line x1="523.70" y1="553.90" x2="523.70" y2="556.30" stroke="#000" stroke-width="0.9"/>
<text x="536.0" y="558.10" font-size="7.9" fill="#231f20">sh<tspan font-style="italic">Sdhb</tspan>.2</text>
</svg>
</body></html>
